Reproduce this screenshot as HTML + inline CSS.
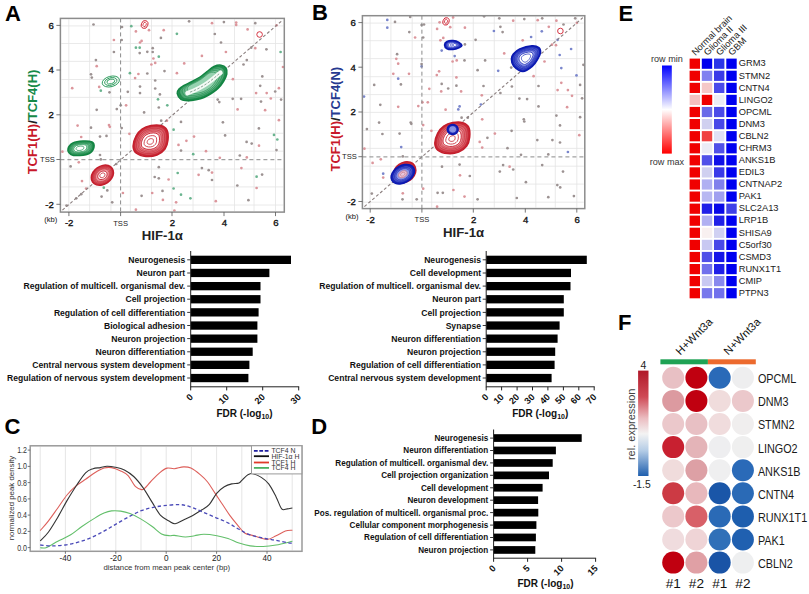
<!DOCTYPE html>
<html><head><meta charset="utf-8"><title>Figure</title>
<style>
html,body{margin:0;padding:0;background:#fff;}
svg{display:block;font-family:'Liberation Sans', Arial, sans-serif;}
</style></head>
<body>
<svg width="809" height="594" viewBox="0 0 809 594">
<rect width="809" height="594" fill="#fff"/>
<text x="5.0" y="20.8" font-size="22" text-anchor="start" font-weight="bold" fill="#000" >A</text>
<text x="312.0" y="20.4" font-size="22" text-anchor="start" font-weight="bold" fill="#000" >B</text>
<text x="4.6" y="434.3" font-size="22" text-anchor="start" font-weight="bold" fill="#000" >C</text>
<text x="311.3" y="434.2" font-size="22" text-anchor="start" font-weight="bold" fill="#000" >D</text>
<text x="618.5" y="20.8" font-size="22" text-anchor="start" font-weight="bold" fill="#000" >E</text>
<text x="618.0" y="329.7" font-size="22" text-anchor="start" font-weight="bold" fill="#000" >F</text>
<line x1="68.8" y1="19.4" x2="68.8" y2="211.1" stroke="#e4e4e4" stroke-width="0.8" />
<line x1="89.6" y1="19.4" x2="89.6" y2="211.1" stroke="#e4e4e4" stroke-width="0.8" />
<line x1="110.9" y1="19.4" x2="110.9" y2="211.1" stroke="#e4e4e4" stroke-width="0.8" />
<line x1="130.4" y1="19.4" x2="130.4" y2="211.1" stroke="#e4e4e4" stroke-width="0.8" />
<line x1="151.5" y1="19.4" x2="151.5" y2="211.1" stroke="#e4e4e4" stroke-width="0.8" />
<line x1="172.0" y1="19.4" x2="172.0" y2="211.1" stroke="#e4e4e4" stroke-width="0.8" />
<line x1="193.0" y1="19.4" x2="193.0" y2="211.1" stroke="#e4e4e4" stroke-width="0.8" />
<line x1="214.0" y1="19.4" x2="214.0" y2="211.1" stroke="#e4e4e4" stroke-width="0.8" />
<line x1="234.5" y1="19.4" x2="234.5" y2="211.1" stroke="#e4e4e4" stroke-width="0.8" />
<line x1="254.0" y1="19.4" x2="254.0" y2="211.1" stroke="#e4e4e4" stroke-width="0.8" />
<line x1="275.5" y1="19.4" x2="275.5" y2="211.1" stroke="#e4e4e4" stroke-width="0.8" />
<line x1="61.4" y1="25.9" x2="283.3" y2="25.9" stroke="#e4e4e4" stroke-width="0.8" />
<line x1="61.4" y1="43.5" x2="283.3" y2="43.5" stroke="#e4e4e4" stroke-width="0.8" />
<line x1="61.4" y1="61.4" x2="283.3" y2="61.4" stroke="#e4e4e4" stroke-width="0.8" />
<line x1="61.4" y1="79.5" x2="283.3" y2="79.5" stroke="#e4e4e4" stroke-width="0.8" />
<line x1="61.4" y1="97.4" x2="283.3" y2="97.4" stroke="#e4e4e4" stroke-width="0.8" />
<line x1="61.4" y1="115.2" x2="283.3" y2="115.2" stroke="#e4e4e4" stroke-width="0.8" />
<line x1="61.4" y1="133.3" x2="283.3" y2="133.3" stroke="#e4e4e4" stroke-width="0.8" />
<line x1="61.4" y1="151.2" x2="283.3" y2="151.2" stroke="#e4e4e4" stroke-width="0.8" />
<line x1="61.4" y1="169.0" x2="283.3" y2="169.0" stroke="#e4e4e4" stroke-width="0.8" />
<line x1="61.4" y1="186.9" x2="283.3" y2="186.9" stroke="#e4e4e4" stroke-width="0.8" />
<line x1="61.4" y1="205.0" x2="283.3" y2="205.0" stroke="#e4e4e4" stroke-width="0.8" />
<circle cx="93.5" cy="24.5" r="1.35" fill="#9c9292"/>
<circle cx="122.0" cy="27.0" r="1.35" fill="#9c9292"/>
<circle cx="131.3" cy="26.2" r="1.35" fill="#6ab48f"/>
<circle cx="135.9" cy="31.4" r="1.35" fill="#dc969c"/>
<circle cx="149.0" cy="30.2" r="1.35" fill="#dc969c"/>
<circle cx="163.7" cy="30.2" r="1.35" fill="#dc969c"/>
<circle cx="160.9" cy="37.9" r="1.35" fill="#9c9292"/>
<circle cx="113.9" cy="40.0" r="1.35" fill="#dc969c"/>
<circle cx="121.7" cy="40.0" r="1.35" fill="#9c9292"/>
<circle cx="140.0" cy="42.5" r="1.35" fill="#dc969c"/>
<circle cx="141.6" cy="40.9" r="1.35" fill="#dc969c"/>
<circle cx="135.9" cy="47.7" r="1.35" fill="#6ab48f"/>
<circle cx="139.7" cy="47.7" r="1.35" fill="#6ab48f"/>
<circle cx="152.7" cy="48.2" r="1.35" fill="#9c9292"/>
<circle cx="113.9" cy="52.0" r="1.35" fill="#9c9292"/>
<circle cx="139.7" cy="53.1" r="1.35" fill="#9c9292"/>
<circle cx="147.3" cy="51.8" r="1.35" fill="#9c9292"/>
<circle cx="152.7" cy="52.0" r="1.35" fill="#9c9292"/>
<circle cx="158.8" cy="56.7" r="1.35" fill="#6ab48f"/>
<circle cx="95.9" cy="60.1" r="1.35" fill="#9c9292"/>
<circle cx="153.4" cy="58.5" r="1.35" fill="#dc969c"/>
<circle cx="96.7" cy="66.2" r="1.35" fill="#dc969c"/>
<circle cx="155.2" cy="62.9" r="1.35" fill="#dc969c"/>
<circle cx="151.4" cy="64.5" r="1.35" fill="#dc969c"/>
<circle cx="164.5" cy="71.1" r="1.35" fill="#9c9292"/>
<circle cx="129.9" cy="73.2" r="1.35" fill="#6ab48f"/>
<circle cx="138.4" cy="74.0" r="1.35" fill="#dc969c"/>
<circle cx="147.3" cy="73.5" r="1.35" fill="#9c9292"/>
<circle cx="91.0" cy="74.3" r="1.35" fill="#9c9292"/>
<circle cx="91.8" cy="77.6" r="1.35" fill="#9c9292"/>
<circle cx="135.1" cy="78.1" r="1.35" fill="#dc969c"/>
<circle cx="155.2" cy="80.5" r="1.35" fill="#9c9292"/>
<circle cx="72.2" cy="88.2" r="1.35" fill="#dc969c"/>
<circle cx="99.2" cy="86.9" r="1.35" fill="#dc969c"/>
<circle cx="100.8" cy="90.7" r="1.35" fill="#6ab48f"/>
<circle cx="109.5" cy="92.3" r="1.35" fill="#9c9292"/>
<circle cx="127.8" cy="91.8" r="1.35" fill="#9c9292"/>
<circle cx="140.0" cy="86.6" r="1.35" fill="#9c9292"/>
<circle cx="140.0" cy="93.1" r="1.35" fill="#9c9292"/>
<circle cx="155.2" cy="88.5" r="1.35" fill="#9c9292"/>
<circle cx="159.9" cy="94.4" r="1.35" fill="#9c9292"/>
<circle cx="158.0" cy="99.3" r="1.35" fill="#6ab48f"/>
<circle cx="120.7" cy="105.3" r="1.35" fill="#9c9292"/>
<circle cx="126.1" cy="105.3" r="1.35" fill="#dc969c"/>
<circle cx="96.7" cy="109.8" r="1.35" fill="#9c9292"/>
<circle cx="116.8" cy="109.1" r="1.35" fill="#9c9292"/>
<circle cx="144.1" cy="112.4" r="1.35" fill="#9c9292"/>
<circle cx="158.8" cy="107.5" r="1.35" fill="#9c9292"/>
<circle cx="167.3" cy="105.3" r="1.35" fill="#6ab48f"/>
<circle cx="189.1" cy="21.3" r="1.35" fill="#9c9292"/>
<circle cx="212.0" cy="23.2" r="1.35" fill="#dc969c"/>
<circle cx="223.9" cy="22.1" r="1.35" fill="#9c9292"/>
<circle cx="236.2" cy="22.6" r="1.35" fill="#dc969c"/>
<circle cx="236.2" cy="24.9" r="1.35" fill="#dc969c"/>
<circle cx="255.3" cy="23.2" r="1.35" fill="#9c9292"/>
<circle cx="247.6" cy="29.4" r="1.35" fill="#dc969c"/>
<circle cx="276.5" cy="25.3" r="1.35" fill="#dc969c"/>
<circle cx="176.9" cy="33.8" r="1.35" fill="#6ab48f"/>
<circle cx="214.8" cy="34.0" r="1.35" fill="#9c9292"/>
<circle cx="221.0" cy="42.5" r="1.35" fill="#9c9292"/>
<circle cx="251.2" cy="47.7" r="1.35" fill="#9c9292"/>
<circle cx="255.3" cy="48.2" r="1.35" fill="#dc969c"/>
<circle cx="266.4" cy="49.3" r="1.35" fill="#9c9292"/>
<circle cx="225.9" cy="52.0" r="1.35" fill="#dc969c"/>
<circle cx="201.9" cy="55.9" r="1.35" fill="#dc969c"/>
<circle cx="280.6" cy="52.0" r="1.35" fill="#6ab48f"/>
<circle cx="184.2" cy="63.4" r="1.35" fill="#dc969c"/>
<circle cx="246.8" cy="60.1" r="1.35" fill="#9c9292"/>
<circle cx="243.5" cy="64.5" r="1.35" fill="#9c9292"/>
<circle cx="283.0" cy="67.0" r="1.35" fill="#dc969c"/>
<circle cx="176.9" cy="73.2" r="1.35" fill="#dc969c"/>
<circle cx="232.9" cy="79.2" r="1.35" fill="#dc969c"/>
<circle cx="262.3" cy="76.4" r="1.35" fill="#9c9292"/>
<circle cx="260.2" cy="85.8" r="1.35" fill="#9c9292"/>
<circle cx="275.2" cy="91.5" r="1.35" fill="#9c9292"/>
<circle cx="278.9" cy="88.2" r="1.35" fill="#dc969c"/>
<circle cx="256.1" cy="93.1" r="1.35" fill="#dc969c"/>
<circle cx="266.7" cy="93.1" r="1.35" fill="#dc969c"/>
<circle cx="270.8" cy="98.5" r="1.35" fill="#dc969c"/>
<circle cx="261.0" cy="101.6" r="1.35" fill="#9c9292"/>
<circle cx="232.7" cy="98.8" r="1.35" fill="#9c9292"/>
<circle cx="241.1" cy="98.8" r="1.35" fill="#9c9292"/>
<circle cx="217.7" cy="99.6" r="1.35" fill="#9c9292"/>
<circle cx="219.3" cy="102.1" r="1.35" fill="#9c9292"/>
<circle cx="237.6" cy="109.4" r="1.35" fill="#dc969c"/>
<circle cx="265.1" cy="110.2" r="1.35" fill="#dc969c"/>
<circle cx="281.1" cy="99.6" r="1.35" fill="#9c9292"/>
<circle cx="77.6" cy="125.6" r="1.35" fill="#dc969c"/>
<circle cx="91.0" cy="127.7" r="1.35" fill="#9c9292"/>
<circle cx="109.0" cy="125.1" r="1.35" fill="#dc969c"/>
<circle cx="109.8" cy="126.8" r="1.35" fill="#dc969c"/>
<circle cx="121.7" cy="128.1" r="1.35" fill="#9c9292"/>
<circle cx="129.4" cy="133.8" r="1.35" fill="#dc969c"/>
<circle cx="81.2" cy="137.0" r="1.35" fill="#dc969c"/>
<circle cx="100.0" cy="136.6" r="1.35" fill="#9c9292"/>
<circle cx="106.5" cy="135.9" r="1.35" fill="#9c9292"/>
<circle cx="161.2" cy="120.7" r="1.35" fill="#9c9292"/>
<circle cx="166.9" cy="120.7" r="1.35" fill="#dc969c"/>
<circle cx="100.0" cy="155.0" r="1.35" fill="#9c9292"/>
<circle cx="62.4" cy="151.7" r="1.35" fill="#dc969c"/>
<circle cx="100.8" cy="159.4" r="1.35" fill="#9c9292"/>
<circle cx="78.8" cy="162.3" r="1.35" fill="#dc969c"/>
<circle cx="70.6" cy="166.4" r="1.35" fill="#9c9292"/>
<circle cx="116.3" cy="164.0" r="1.35" fill="#9c9292"/>
<circle cx="158.8" cy="167.2" r="1.35" fill="#9c9292"/>
<circle cx="154.7" cy="177.0" r="1.35" fill="#9c9292"/>
<circle cx="158.8" cy="178.3" r="1.35" fill="#9c9292"/>
<circle cx="168.6" cy="179.5" r="1.35" fill="#dc969c"/>
<circle cx="82.0" cy="181.1" r="1.35" fill="#dc969c"/>
<circle cx="86.1" cy="188.5" r="1.35" fill="#dc969c"/>
<circle cx="103.8" cy="187.7" r="1.35" fill="#6ab48f"/>
<circle cx="107.3" cy="190.4" r="1.35" fill="#9c9292"/>
<circle cx="122.9" cy="193.0" r="1.35" fill="#dc969c"/>
<circle cx="141.6" cy="195.8" r="1.35" fill="#9c9292"/>
<circle cx="152.2" cy="193.0" r="1.35" fill="#dc969c"/>
<circle cx="162.5" cy="190.9" r="1.35" fill="#9c9292"/>
<circle cx="162.9" cy="199.9" r="1.35" fill="#dc969c"/>
<circle cx="101.6" cy="196.6" r="1.35" fill="#9c9292"/>
<circle cx="81.2" cy="194.2" r="1.35" fill="#9c9292"/>
<circle cx="76.3" cy="198.3" r="1.35" fill="#9c9292"/>
<circle cx="112.2" cy="202.3" r="1.35" fill="#9c9292"/>
<circle cx="135.9" cy="209.7" r="1.35" fill="#dc969c"/>
<circle cx="66.5" cy="205.6" r="1.35" fill="#9c9292"/>
<circle cx="181.0" cy="121.9" r="1.35" fill="#9c9292"/>
<circle cx="222.9" cy="122.3" r="1.35" fill="#9c9292"/>
<circle cx="278.9" cy="120.2" r="1.35" fill="#dc969c"/>
<circle cx="173.6" cy="129.7" r="1.35" fill="#6ab48f"/>
<circle cx="258.9" cy="128.4" r="1.35" fill="#9c9292"/>
<circle cx="194.0" cy="136.6" r="1.35" fill="#dc969c"/>
<circle cx="225.1" cy="135.4" r="1.35" fill="#9c9292"/>
<circle cx="274.0" cy="134.9" r="1.35" fill="#6ab48f"/>
<circle cx="277.3" cy="139.5" r="1.35" fill="#6ab48f"/>
<circle cx="186.4" cy="140.8" r="1.35" fill="#dc969c"/>
<circle cx="178.5" cy="144.9" r="1.35" fill="#dc969c"/>
<circle cx="246.6" cy="141.9" r="1.35" fill="#9c9292"/>
<circle cx="251.7" cy="143.6" r="1.35" fill="#9c9292"/>
<circle cx="259.0" cy="145.7" r="1.35" fill="#dc969c"/>
<circle cx="181.0" cy="150.6" r="1.35" fill="#9c9292"/>
<circle cx="206.0" cy="151.2" r="1.35" fill="#dc969c"/>
<circle cx="193.2" cy="154.2" r="1.35" fill="#6ab48f"/>
<circle cx="276.5" cy="150.1" r="1.35" fill="#9c9292"/>
<circle cx="239.8" cy="155.5" r="1.35" fill="#9c9292"/>
<circle cx="219.8" cy="157.8" r="1.35" fill="#dc969c"/>
<circle cx="246.8" cy="157.4" r="1.35" fill="#dc969c"/>
<circle cx="201.9" cy="168.1" r="1.35" fill="#9c9292"/>
<circle cx="241.4" cy="168.1" r="1.35" fill="#dc969c"/>
<circle cx="208.7" cy="170.2" r="1.35" fill="#9c9292"/>
<circle cx="212.0" cy="172.6" r="1.35" fill="#dc969c"/>
<circle cx="198.6" cy="174.8" r="1.35" fill="#dc969c"/>
<circle cx="177.7" cy="173.0" r="1.35" fill="#6ab48f"/>
<circle cx="212.0" cy="180.0" r="1.35" fill="#9c9292"/>
<circle cx="256.6" cy="176.7" r="1.35" fill="#6ab48f"/>
<circle cx="262.1" cy="174.6" r="1.35" fill="#9c9292"/>
<circle cx="237.3" cy="185.5" r="1.35" fill="#9c9292"/>
<circle cx="256.6" cy="188.0" r="1.35" fill="#dc969c"/>
<circle cx="173.6" cy="188.5" r="1.35" fill="#6ab48f"/>
<circle cx="181.0" cy="194.7" r="1.35" fill="#6ab48f"/>
<circle cx="190.4" cy="198.3" r="1.35" fill="#6ab48f"/>
<circle cx="176.1" cy="202.3" r="1.35" fill="#dc969c"/>
<circle cx="215.8" cy="201.2" r="1.35" fill="#dc969c"/>
<circle cx="248.4" cy="200.2" r="1.35" fill="#9c9292"/>
<circle cx="174.4" cy="210.5" r="1.35" fill="#dc969c"/>
<line x1="62.4" y1="210.1" x2="282.3" y2="20.4" stroke="#8a7e7e" stroke-width="1.1" stroke-dasharray="3,2.2"/>
<line x1="120.6" y1="18.4" x2="120.6" y2="212.1" stroke="#8a8a8a" stroke-width="1" stroke-dasharray="4,3"/>
<line x1="60.4" y1="159.7" x2="284.3" y2="159.7" stroke="#8a8a8a" stroke-width="1" stroke-dasharray="4,3"/>
<path d="M133.10,146.00 C133.10,148.83 133.85,151.25 136.00,153.00 C138.15,154.75 142.50,156.17 146.00,156.50 C149.50,156.83 153.83,156.25 157.00,155.00 C160.17,153.75 163.17,151.50 165.00,149.00 C166.83,146.50 167.67,143.17 168.00,140.00 C168.33,136.83 168.17,132.42 167.00,130.00 C165.83,127.58 163.67,126.25 161.00,125.50 C158.33,124.75 154.17,124.92 151.00,125.50 C147.83,126.08 144.50,127.25 142.00,129.00 C139.50,130.75 137.48,133.17 136.00,136.00 C134.52,138.83 133.10,143.17 133.10,146.00Z" fill="#c92c39" stroke="#c41e2c" stroke-width="1.5"/>
<path d="M133.10,146.00 C133.10,148.83 133.85,151.25 136.00,153.00 C138.15,154.75 142.50,156.17 146.00,156.50 C149.50,156.83 153.83,156.25 157.00,155.00 C160.17,153.75 163.17,151.50 165.00,149.00 C166.83,146.50 167.67,143.17 168.00,140.00 C168.33,136.83 168.17,132.42 167.00,130.00 C165.83,127.58 163.67,126.25 161.00,125.50 C158.33,124.75 154.17,124.92 151.00,125.50 C147.83,126.08 144.50,127.25 142.00,129.00 C139.50,130.75 137.48,133.17 136.00,136.00 C134.52,138.83 133.10,143.17 133.10,146.00Z" transform="translate(150.20,141.60) scale(0.9) translate(-150.20,-141.60)" vector-effect="non-scaling-stroke" fill="#d6525d" stroke="#c41e2c" stroke-width="0.7" stroke-opacity="0.75"/>
<path d="M133.10,146.00 C133.10,148.83 133.85,151.25 136.00,153.00 C138.15,154.75 142.50,156.17 146.00,156.50 C149.50,156.83 153.83,156.25 157.00,155.00 C160.17,153.75 163.17,151.50 165.00,149.00 C166.83,146.50 167.67,143.17 168.00,140.00 C168.33,136.83 168.17,132.42 167.00,130.00 C165.83,127.58 163.67,126.25 161.00,125.50 C158.33,124.75 154.17,124.92 151.00,125.50 C147.83,126.08 144.50,127.25 142.00,129.00 C139.50,130.75 137.48,133.17 136.00,136.00 C134.52,138.83 133.10,143.17 133.10,146.00Z" transform="translate(150.20,141.60) scale(0.8) translate(-150.20,-141.60)" vector-effect="non-scaling-stroke" fill="#dd6972" stroke="#c41e2c" stroke-width="0.7" stroke-opacity="0.75"/>
<path d="M133.10,146.00 C133.10,148.83 133.85,151.25 136.00,153.00 C138.15,154.75 142.50,156.17 146.00,156.50 C149.50,156.83 153.83,156.25 157.00,155.00 C160.17,153.75 163.17,151.50 165.00,149.00 C166.83,146.50 167.67,143.17 168.00,140.00 C168.33,136.83 168.17,132.42 167.00,130.00 C165.83,127.58 163.67,126.25 161.00,125.50 C158.33,124.75 154.17,124.92 151.00,125.50 C147.83,126.08 144.50,127.25 142.00,129.00 C139.50,130.75 137.48,133.17 136.00,136.00 C134.52,138.83 133.10,143.17 133.10,146.00Z" transform="translate(150.20,141.60) scale(0.7) translate(-150.20,-141.60)" vector-effect="non-scaling-stroke" fill="#e48087" stroke="#c41e2c" stroke-width="0.7" stroke-opacity="0.75"/>
<path d="M133.10,146.00 C133.10,148.83 133.85,151.25 136.00,153.00 C138.15,154.75 142.50,156.17 146.00,156.50 C149.50,156.83 153.83,156.25 157.00,155.00 C160.17,153.75 163.17,151.50 165.00,149.00 C166.83,146.50 167.67,143.17 168.00,140.00 C168.33,136.83 168.17,132.42 167.00,130.00 C165.83,127.58 163.67,126.25 161.00,125.50 C158.33,124.75 154.17,124.92 151.00,125.50 C147.83,126.08 144.50,127.25 142.00,129.00 C139.50,130.75 137.48,133.17 136.00,136.00 C134.52,138.83 133.10,143.17 133.10,146.00Z" transform="translate(150.20,141.60) scale(0.62) translate(-150.20,-141.60)" vector-effect="non-scaling-stroke" fill="#ec969c" stroke="#c41e2c" stroke-width="0.7" stroke-opacity="0.75"/>
<path d="M133.10,146.00 C133.10,148.83 133.85,151.25 136.00,153.00 C138.15,154.75 142.50,156.17 146.00,156.50 C149.50,156.83 153.83,156.25 157.00,155.00 C160.17,153.75 163.17,151.50 165.00,149.00 C166.83,146.50 167.67,143.17 168.00,140.00 C168.33,136.83 168.17,132.42 167.00,130.00 C165.83,127.58 163.67,126.25 161.00,125.50 C158.33,124.75 154.17,124.92 151.00,125.50 C147.83,126.08 144.50,127.25 142.00,129.00 C139.50,130.75 137.48,133.17 136.00,136.00 C134.52,138.83 133.10,143.17 133.10,146.00Z" transform="translate(150.20,141.60) scale(0.52) translate(-150.20,-141.60)" vector-effect="non-scaling-stroke" fill="#ffffff" stroke="#c41e2c" stroke-width="0.9"/>
<path d="M133.10,146.00 C133.10,148.83 133.85,151.25 136.00,153.00 C138.15,154.75 142.50,156.17 146.00,156.50 C149.50,156.83 153.83,156.25 157.00,155.00 C160.17,153.75 163.17,151.50 165.00,149.00 C166.83,146.50 167.67,143.17 168.00,140.00 C168.33,136.83 168.17,132.42 167.00,130.00 C165.83,127.58 163.67,126.25 161.00,125.50 C158.33,124.75 154.17,124.92 151.00,125.50 C147.83,126.08 144.50,127.25 142.00,129.00 C139.50,130.75 137.48,133.17 136.00,136.00 C134.52,138.83 133.10,143.17 133.10,146.00Z" transform="translate(150.20,141.60) scale(0.36) translate(-150.20,-141.60)" vector-effect="non-scaling-stroke" fill="none" stroke="#c41e2c" stroke-width="0.8"/>
<path d="M133.10,146.00 C133.10,148.83 133.85,151.25 136.00,153.00 C138.15,154.75 142.50,156.17 146.00,156.50 C149.50,156.83 153.83,156.25 157.00,155.00 C160.17,153.75 163.17,151.50 165.00,149.00 C166.83,146.50 167.67,143.17 168.00,140.00 C168.33,136.83 168.17,132.42 167.00,130.00 C165.83,127.58 163.67,126.25 161.00,125.50 C158.33,124.75 154.17,124.92 151.00,125.50 C147.83,126.08 144.50,127.25 142.00,129.00 C139.50,130.75 137.48,133.17 136.00,136.00 C134.52,138.83 133.10,143.17 133.10,146.00Z" transform="translate(150.20,141.60) scale(0.18) translate(-150.20,-141.60)" vector-effect="non-scaling-stroke" fill="none" stroke="#c41e2c" stroke-width="0.8"/>
<path d="M112.23,168.32 C113.09,169.55 113.57,171.29 113.49,172.93 C113.42,174.56 112.77,176.54 111.79,178.14 C110.80,179.75 109.20,181.43 107.56,182.57 C105.92,183.72 103.80,184.65 101.96,185.03 C100.11,185.41 98.03,185.34 96.47,184.85 C94.90,184.36 93.43,183.31 92.57,182.08 C91.71,180.85 91.23,179.11 91.31,177.47 C91.38,175.84 92.03,173.86 93.01,172.26 C94.00,170.65 95.60,168.97 97.24,167.83 C98.88,166.68 101.00,165.75 102.84,165.37 C104.69,164.99 106.77,165.06 108.33,165.55 C109.90,166.04 111.37,167.09 112.23,168.32Z" fill="#c92c39" stroke="#c41e2c" stroke-width="1.5"/>
<path d="M112.23,168.32 C113.09,169.55 113.57,171.29 113.49,172.93 C113.42,174.56 112.77,176.54 111.79,178.14 C110.80,179.75 109.20,181.43 107.56,182.57 C105.92,183.72 103.80,184.65 101.96,185.03 C100.11,185.41 98.03,185.34 96.47,184.85 C94.90,184.36 93.43,183.31 92.57,182.08 C91.71,180.85 91.23,179.11 91.31,177.47 C91.38,175.84 92.03,173.86 93.01,172.26 C94.00,170.65 95.60,168.97 97.24,167.83 C98.88,166.68 101.00,165.75 102.84,165.37 C104.69,164.99 106.77,165.06 108.33,165.55 C109.90,166.04 111.37,167.09 112.23,168.32Z" transform="translate(102.40,175.40) scale(0.9) translate(-102.40,-175.40)" vector-effect="non-scaling-stroke" fill="#d6525d" stroke="#c41e2c" stroke-width="0.7" stroke-opacity="0.75"/>
<path d="M112.23,168.32 C113.09,169.55 113.57,171.29 113.49,172.93 C113.42,174.56 112.77,176.54 111.79,178.14 C110.80,179.75 109.20,181.43 107.56,182.57 C105.92,183.72 103.80,184.65 101.96,185.03 C100.11,185.41 98.03,185.34 96.47,184.85 C94.90,184.36 93.43,183.31 92.57,182.08 C91.71,180.85 91.23,179.11 91.31,177.47 C91.38,175.84 92.03,173.86 93.01,172.26 C94.00,170.65 95.60,168.97 97.24,167.83 C98.88,166.68 101.00,165.75 102.84,165.37 C104.69,164.99 106.77,165.06 108.33,165.55 C109.90,166.04 111.37,167.09 112.23,168.32Z" transform="translate(102.40,175.40) scale(0.8) translate(-102.40,-175.40)" vector-effect="non-scaling-stroke" fill="#dd6972" stroke="#c41e2c" stroke-width="0.7" stroke-opacity="0.75"/>
<path d="M112.23,168.32 C113.09,169.55 113.57,171.29 113.49,172.93 C113.42,174.56 112.77,176.54 111.79,178.14 C110.80,179.75 109.20,181.43 107.56,182.57 C105.92,183.72 103.80,184.65 101.96,185.03 C100.11,185.41 98.03,185.34 96.47,184.85 C94.90,184.36 93.43,183.31 92.57,182.08 C91.71,180.85 91.23,179.11 91.31,177.47 C91.38,175.84 92.03,173.86 93.01,172.26 C94.00,170.65 95.60,168.97 97.24,167.83 C98.88,166.68 101.00,165.75 102.84,165.37 C104.69,164.99 106.77,165.06 108.33,165.55 C109.90,166.04 111.37,167.09 112.23,168.32Z" transform="translate(102.40,175.40) scale(0.7) translate(-102.40,-175.40)" vector-effect="non-scaling-stroke" fill="#e48087" stroke="#c41e2c" stroke-width="0.7" stroke-opacity="0.75"/>
<path d="M112.23,168.32 C113.09,169.55 113.57,171.29 113.49,172.93 C113.42,174.56 112.77,176.54 111.79,178.14 C110.80,179.75 109.20,181.43 107.56,182.57 C105.92,183.72 103.80,184.65 101.96,185.03 C100.11,185.41 98.03,185.34 96.47,184.85 C94.90,184.36 93.43,183.31 92.57,182.08 C91.71,180.85 91.23,179.11 91.31,177.47 C91.38,175.84 92.03,173.86 93.01,172.26 C94.00,170.65 95.60,168.97 97.24,167.83 C98.88,166.68 101.00,165.75 102.84,165.37 C104.69,164.99 106.77,165.06 108.33,165.55 C109.90,166.04 111.37,167.09 112.23,168.32Z" transform="translate(102.40,175.40) scale(0.62) translate(-102.40,-175.40)" vector-effect="non-scaling-stroke" fill="#ec969c" stroke="#c41e2c" stroke-width="0.7" stroke-opacity="0.75"/>
<path d="M112.23,168.32 C113.09,169.55 113.57,171.29 113.49,172.93 C113.42,174.56 112.77,176.54 111.79,178.14 C110.80,179.75 109.20,181.43 107.56,182.57 C105.92,183.72 103.80,184.65 101.96,185.03 C100.11,185.41 98.03,185.34 96.47,184.85 C94.90,184.36 93.43,183.31 92.57,182.08 C91.71,180.85 91.23,179.11 91.31,177.47 C91.38,175.84 92.03,173.86 93.01,172.26 C94.00,170.65 95.60,168.97 97.24,167.83 C98.88,166.68 101.00,165.75 102.84,165.37 C104.69,164.99 106.77,165.06 108.33,165.55 C109.90,166.04 111.37,167.09 112.23,168.32Z" transform="translate(102.40,175.40) scale(0.42) translate(-102.40,-175.40)" vector-effect="non-scaling-stroke" fill="#ffffff" stroke="#c41e2c" stroke-width="0.9"/>
<path d="M112.23,168.32 C113.09,169.55 113.57,171.29 113.49,172.93 C113.42,174.56 112.77,176.54 111.79,178.14 C110.80,179.75 109.20,181.43 107.56,182.57 C105.92,183.72 103.80,184.65 101.96,185.03 C100.11,185.41 98.03,185.34 96.47,184.85 C94.90,184.36 93.43,183.31 92.57,182.08 C91.71,180.85 91.23,179.11 91.31,177.47 C91.38,175.84 92.03,173.86 93.01,172.26 C94.00,170.65 95.60,168.97 97.24,167.83 C98.88,166.68 101.00,165.75 102.84,165.37 C104.69,164.99 106.77,165.06 108.33,165.55 C109.90,166.04 111.37,167.09 112.23,168.32Z" transform="translate(102.40,175.40) scale(0.24) translate(-102.40,-175.40)" vector-effect="non-scaling-stroke" fill="none" stroke="#c41e2c" stroke-width="0.8"/>
<path d="M68.00,149.00 C67.67,150.92 69.00,153.42 71.00,154.50 C73.00,155.58 76.83,155.75 80.00,155.50 C83.17,155.25 87.67,154.42 90.00,153.00 C92.33,151.58 93.67,148.83 94.00,147.00 C94.33,145.17 93.83,143.00 92.00,142.00 C90.17,141.00 86.17,140.83 83.00,141.00 C79.83,141.17 75.50,141.67 73.00,143.00 C70.50,144.33 68.33,147.08 68.00,149.00Z" fill="#228d4f" stroke="#128442" stroke-width="1.5"/>
<path d="M68.00,149.00 C67.67,150.92 69.00,153.42 71.00,154.50 C73.00,155.58 76.83,155.75 80.00,155.50 C83.17,155.25 87.67,154.42 90.00,153.00 C92.33,151.58 93.67,148.83 94.00,147.00 C94.33,145.17 93.83,143.00 92.00,142.00 C90.17,141.00 86.17,140.83 83.00,141.00 C79.83,141.17 75.50,141.67 73.00,143.00 C70.50,144.33 68.33,147.08 68.00,149.00Z" transform="translate(79.50,148.30) scale(0.9) translate(-79.50,-148.30)" vector-effect="non-scaling-stroke" fill="#4ca672" stroke="#128442" stroke-width="0.7" stroke-opacity="0.75"/>
<path d="M68.00,149.00 C67.67,150.92 69.00,153.42 71.00,154.50 C73.00,155.58 76.83,155.75 80.00,155.50 C83.17,155.25 87.67,154.42 90.00,153.00 C92.33,151.58 93.67,148.83 94.00,147.00 C94.33,145.17 93.83,143.00 92.00,142.00 C90.17,141.00 86.17,140.83 83.00,141.00 C79.83,141.17 75.50,141.67 73.00,143.00 C70.50,144.33 68.33,147.08 68.00,149.00Z" transform="translate(79.50,148.30) scale(0.8) translate(-79.50,-148.30)" vector-effect="non-scaling-stroke" fill="#64b587" stroke="#128442" stroke-width="0.7" stroke-opacity="0.75"/>
<path d="M68.00,149.00 C67.67,150.92 69.00,153.42 71.00,154.50 C73.00,155.58 76.83,155.75 80.00,155.50 C83.17,155.25 87.67,154.42 90.00,153.00 C92.33,151.58 93.67,148.83 94.00,147.00 C94.33,145.17 93.83,143.00 92.00,142.00 C90.17,141.00 86.17,140.83 83.00,141.00 C79.83,141.17 75.50,141.67 73.00,143.00 C70.50,144.33 68.33,147.08 68.00,149.00Z" transform="translate(79.50,148.30) scale(0.7) translate(-79.50,-148.30)" vector-effect="non-scaling-stroke" fill="#7dc39b" stroke="#128442" stroke-width="0.7" stroke-opacity="0.75"/>
<path d="M68.00,149.00 C67.67,150.92 69.00,153.42 71.00,154.50 C73.00,155.58 76.83,155.75 80.00,155.50 C83.17,155.25 87.67,154.42 90.00,153.00 C92.33,151.58 93.67,148.83 94.00,147.00 C94.33,145.17 93.83,143.00 92.00,142.00 C90.17,141.00 86.17,140.83 83.00,141.00 C79.83,141.17 75.50,141.67 73.00,143.00 C70.50,144.33 68.33,147.08 68.00,149.00Z" transform="translate(79.50,148.30) scale(0.62) translate(-79.50,-148.30)" vector-effect="non-scaling-stroke" fill="#96d2b0" stroke="#128442" stroke-width="0.7" stroke-opacity="0.75"/>
<path d="M68.00,149.00 C67.67,150.92 69.00,153.42 71.00,154.50 C73.00,155.58 76.83,155.75 80.00,155.50 C83.17,155.25 87.67,154.42 90.00,153.00 C92.33,151.58 93.67,148.83 94.00,147.00 C94.33,145.17 93.83,143.00 92.00,142.00 C90.17,141.00 86.17,140.83 83.00,141.00 C79.83,141.17 75.50,141.67 73.00,143.00 C70.50,144.33 68.33,147.08 68.00,149.00Z" transform="translate(79.50,148.30) scale(0.5) translate(-79.50,-148.30)" vector-effect="non-scaling-stroke" fill="#ffffff" stroke="#2a9a5a" stroke-width="0.9"/>
<path d="M68.00,149.00 C67.67,150.92 69.00,153.42 71.00,154.50 C73.00,155.58 76.83,155.75 80.00,155.50 C83.17,155.25 87.67,154.42 90.00,153.00 C92.33,151.58 93.67,148.83 94.00,147.00 C94.33,145.17 93.83,143.00 92.00,142.00 C90.17,141.00 86.17,140.83 83.00,141.00 C79.83,141.17 75.50,141.67 73.00,143.00 C70.50,144.33 68.33,147.08 68.00,149.00Z" transform="translate(79.50,148.30) scale(0.3) translate(-79.50,-148.30)" vector-effect="non-scaling-stroke" fill="none" stroke="#2a9a5a" stroke-width="0.8"/>
<ellipse cx="110.8" cy="81.5" rx="8.8" ry="5.2" transform="rotate(-15 110.8 81.5)" fill="none" stroke="#2a9a5a" stroke-width="0.9"/>
<ellipse cx="110.8" cy="81.5" rx="6.3" ry="3.7" transform="rotate(-15 110.8 81.5)" fill="none" stroke="#2a9a5a" stroke-width="0.9"/>
<ellipse cx="110.8" cy="81.5" rx="4.0" ry="2.3" transform="rotate(-15 110.8 81.5)" fill="none" stroke="#2a9a5a" stroke-width="0.9"/>
<path d="M177.20,93.40 C177.53,95.15 179.20,98.27 181.00,99.50 C182.80,100.73 185.50,100.75 188.00,100.80 C190.50,100.85 193.33,100.35 196.00,99.80 C198.67,99.25 201.40,98.57 204.00,97.50 C206.60,96.43 209.27,94.90 211.60,93.40 C213.93,91.90 216.02,90.48 218.00,88.50 C219.98,86.52 222.03,83.88 223.50,81.50 C224.97,79.12 226.38,76.45 226.80,74.20 C227.22,71.95 226.97,69.50 226.00,68.00 C225.03,66.50 223.00,65.45 221.00,65.20 C219.00,64.95 216.33,65.45 214.00,66.50 C211.67,67.55 209.33,69.75 207.00,71.50 C204.67,73.25 202.50,75.33 200.00,77.00 C197.50,78.67 194.67,80.08 192.00,81.50 C189.33,82.92 186.17,84.25 184.00,85.50 C181.83,86.75 180.13,87.68 179.00,89.00 C177.87,90.32 176.87,91.65 177.20,93.40Z" fill="#228d4f" stroke="#128442" stroke-width="1.5"/>
<path d="M177.20,93.40 C177.53,95.15 179.20,98.27 181.00,99.50 C182.80,100.73 185.50,100.75 188.00,100.80 C190.50,100.85 193.33,100.35 196.00,99.80 C198.67,99.25 201.40,98.57 204.00,97.50 C206.60,96.43 209.27,94.90 211.60,93.40 C213.93,91.90 216.02,90.48 218.00,88.50 C219.98,86.52 222.03,83.88 223.50,81.50 C224.97,79.12 226.38,76.45 226.80,74.20 C227.22,71.95 226.97,69.50 226.00,68.00 C225.03,66.50 223.00,65.45 221.00,65.20 C219.00,64.95 216.33,65.45 214.00,66.50 C211.67,67.55 209.33,69.75 207.00,71.50 C204.67,73.25 202.50,75.33 200.00,77.00 C197.50,78.67 194.67,80.08 192.00,81.50 C189.33,82.92 186.17,84.25 184.00,85.50 C181.83,86.75 180.13,87.68 179.00,89.00 C177.87,90.32 176.87,91.65 177.20,93.40Z" transform="translate(202.50,82.80) scale(0.9) translate(-202.50,-82.80)" vector-effect="non-scaling-stroke" fill="#4ca672" stroke="#128442" stroke-width="0.7" stroke-opacity="0.75"/>
<path d="M177.20,93.40 C177.53,95.15 179.20,98.27 181.00,99.50 C182.80,100.73 185.50,100.75 188.00,100.80 C190.50,100.85 193.33,100.35 196.00,99.80 C198.67,99.25 201.40,98.57 204.00,97.50 C206.60,96.43 209.27,94.90 211.60,93.40 C213.93,91.90 216.02,90.48 218.00,88.50 C219.98,86.52 222.03,83.88 223.50,81.50 C224.97,79.12 226.38,76.45 226.80,74.20 C227.22,71.95 226.97,69.50 226.00,68.00 C225.03,66.50 223.00,65.45 221.00,65.20 C219.00,64.95 216.33,65.45 214.00,66.50 C211.67,67.55 209.33,69.75 207.00,71.50 C204.67,73.25 202.50,75.33 200.00,77.00 C197.50,78.67 194.67,80.08 192.00,81.50 C189.33,82.92 186.17,84.25 184.00,85.50 C181.83,86.75 180.13,87.68 179.00,89.00 C177.87,90.32 176.87,91.65 177.20,93.40Z" transform="translate(202.50,82.80) scale(0.8) translate(-202.50,-82.80)" vector-effect="non-scaling-stroke" fill="#64b587" stroke="#128442" stroke-width="0.7" stroke-opacity="0.75"/>
<path d="M177.20,93.40 C177.53,95.15 179.20,98.27 181.00,99.50 C182.80,100.73 185.50,100.75 188.00,100.80 C190.50,100.85 193.33,100.35 196.00,99.80 C198.67,99.25 201.40,98.57 204.00,97.50 C206.60,96.43 209.27,94.90 211.60,93.40 C213.93,91.90 216.02,90.48 218.00,88.50 C219.98,86.52 222.03,83.88 223.50,81.50 C224.97,79.12 226.38,76.45 226.80,74.20 C227.22,71.95 226.97,69.50 226.00,68.00 C225.03,66.50 223.00,65.45 221.00,65.20 C219.00,64.95 216.33,65.45 214.00,66.50 C211.67,67.55 209.33,69.75 207.00,71.50 C204.67,73.25 202.50,75.33 200.00,77.00 C197.50,78.67 194.67,80.08 192.00,81.50 C189.33,82.92 186.17,84.25 184.00,85.50 C181.83,86.75 180.13,87.68 179.00,89.00 C177.87,90.32 176.87,91.65 177.20,93.40Z" transform="translate(202.50,82.80) scale(0.7) translate(-202.50,-82.80)" vector-effect="non-scaling-stroke" fill="#7dc39b" stroke="#128442" stroke-width="0.7" stroke-opacity="0.75"/>
<path d="M177.20,93.40 C177.53,95.15 179.20,98.27 181.00,99.50 C182.80,100.73 185.50,100.75 188.00,100.80 C190.50,100.85 193.33,100.35 196.00,99.80 C198.67,99.25 201.40,98.57 204.00,97.50 C206.60,96.43 209.27,94.90 211.60,93.40 C213.93,91.90 216.02,90.48 218.00,88.50 C219.98,86.52 222.03,83.88 223.50,81.50 C224.97,79.12 226.38,76.45 226.80,74.20 C227.22,71.95 226.97,69.50 226.00,68.00 C225.03,66.50 223.00,65.45 221.00,65.20 C219.00,64.95 216.33,65.45 214.00,66.50 C211.67,67.55 209.33,69.75 207.00,71.50 C204.67,73.25 202.50,75.33 200.00,77.00 C197.50,78.67 194.67,80.08 192.00,81.50 C189.33,82.92 186.17,84.25 184.00,85.50 C181.83,86.75 180.13,87.68 179.00,89.00 C177.87,90.32 176.87,91.65 177.20,93.40Z" transform="translate(202.50,82.80) scale(0.6) translate(-202.50,-82.80)" vector-effect="non-scaling-stroke" fill="#96d2b0" stroke="#128442" stroke-width="0.7" stroke-opacity="0.75"/>
<path d="M187.5,93.2 C195,90.5 203,86.5 209,82 C213,79 217,75.5 220.5,72.8" fill="none" stroke="#f4fbf6" stroke-width="4.6" stroke-linecap="round"/>
<path d="M190,92.2 C197,89.5 203.5,86 209,82 C213,79 216.5,76 219.5,73.5" fill="none" stroke="#4a6a58" stroke-width="0.6" stroke-dasharray="2.5,1.5"/>
<ellipse cx="144.6" cy="24.5" rx="3.2" ry="4" transform="rotate(20 144.6 24.5)" fill="none" stroke="#d02030" stroke-width="0.9"/>
<ellipse cx="144.6" cy="24.5" rx="1.6" ry="2.2" transform="rotate(20 144.6 24.5)" fill="none" stroke="#d02030" stroke-width="0.7"/>
<circle cx="259.6" cy="34.5" r="2.8" fill="none" stroke="#d02030" stroke-width="0.9"/>
<rect x="60.4" y="18.4" width="223.9" height="193.7" fill="none" stroke="#8c8c8c" stroke-width="1.5"/>
<line x1="56.4" y1="25.4" x2="60.4" y2="25.4" stroke="#555" stroke-width="0.8" />
<text x="53.9" y="28.8" font-size="9.6" text-anchor="end" font-weight="normal" fill="#111" stroke="#111" stroke-width="0.35">6</text>
<line x1="56.4" y1="70.0" x2="60.4" y2="70.0" stroke="#555" stroke-width="0.8" />
<text x="53.9" y="73.4" font-size="9.6" text-anchor="end" font-weight="normal" fill="#111" stroke="#111" stroke-width="0.35">4</text>
<line x1="56.4" y1="114.8" x2="60.4" y2="114.8" stroke="#555" stroke-width="0.8" />
<text x="53.9" y="118.2" font-size="9.6" text-anchor="end" font-weight="normal" fill="#111" stroke="#111" stroke-width="0.35">2</text>
<line x1="56.4" y1="159.5" x2="60.4" y2="159.5" stroke="#555" stroke-width="0.8" />
<text x="54.9" y="162.2" font-size="7.6" text-anchor="end" font-weight="normal" fill="#222" >TSS</text>
<line x1="56.4" y1="204.3" x2="60.4" y2="204.3" stroke="#555" stroke-width="0.8" />
<text x="53.9" y="207.7" font-size="9.6" text-anchor="end" font-weight="normal" fill="#111" stroke="#111" stroke-width="0.35">-2</text>
<line x1="68.9" y1="212.1" x2="68.9" y2="216.1" stroke="#555" stroke-width="0.8" />
<text x="69.2" y="226.0" font-size="9.6" text-anchor="middle" font-weight="normal" fill="#111" stroke="#111" stroke-width="0.35">-2</text>
<line x1="120.6" y1="212.1" x2="120.6" y2="216.1" stroke="#555" stroke-width="0.8" />
<text x="120.6" y="225.6" font-size="7.6" text-anchor="middle" font-weight="normal" fill="#222" >TSS</text>
<line x1="172.0" y1="212.1" x2="172.0" y2="216.1" stroke="#555" stroke-width="0.8" />
<text x="172.3" y="226.0" font-size="9.6" text-anchor="middle" font-weight="normal" fill="#111" stroke="#111" stroke-width="0.35">2</text>
<line x1="224.0" y1="212.1" x2="224.0" y2="216.1" stroke="#555" stroke-width="0.8" />
<text x="224.3" y="226.0" font-size="9.6" text-anchor="middle" font-weight="normal" fill="#111" stroke="#111" stroke-width="0.35">4</text>
<line x1="275.5" y1="212.1" x2="275.5" y2="216.1" stroke="#555" stroke-width="0.8" />
<text x="275.8" y="226.0" font-size="9.6" text-anchor="middle" font-weight="normal" fill="#111" stroke="#111" stroke-width="0.35">6</text>
<text x="44.2" y="221.8" font-size="7.6" text-anchor="start" font-weight="normal" fill="#111" >(kb)</text>
<text x="162.3" y="239.7" font-size="13.2" text-anchor="middle" font-weight="bold" fill="#222" >HIF-1α</text>
<text transform="translate(36.6,122.0) rotate(-90)" font-size="13" font-weight="bold" text-anchor="middle"><tspan fill="#c8182a">TCF1(H)</tspan><tspan fill="#222">/</tspan><tspan fill="#168a48">TCF4(H)</tspan></text>
<line x1="370.1" y1="16.7" x2="370.1" y2="207.6" stroke="#e4e4e4" stroke-width="0.8" />
<line x1="390.9" y1="16.7" x2="390.9" y2="207.6" stroke="#e4e4e4" stroke-width="0.8" />
<line x1="412.2" y1="16.7" x2="412.2" y2="207.6" stroke="#e4e4e4" stroke-width="0.8" />
<line x1="431.7" y1="16.7" x2="431.7" y2="207.6" stroke="#e4e4e4" stroke-width="0.8" />
<line x1="452.8" y1="16.7" x2="452.8" y2="207.6" stroke="#e4e4e4" stroke-width="0.8" />
<line x1="473.3" y1="16.7" x2="473.3" y2="207.6" stroke="#e4e4e4" stroke-width="0.8" />
<line x1="494.3" y1="16.7" x2="494.3" y2="207.6" stroke="#e4e4e4" stroke-width="0.8" />
<line x1="515.3" y1="16.7" x2="515.3" y2="207.6" stroke="#e4e4e4" stroke-width="0.8" />
<line x1="535.8" y1="16.7" x2="535.8" y2="207.6" stroke="#e4e4e4" stroke-width="0.8" />
<line x1="555.3" y1="16.7" x2="555.3" y2="207.6" stroke="#e4e4e4" stroke-width="0.8" />
<line x1="576.8" y1="16.7" x2="576.8" y2="207.6" stroke="#e4e4e4" stroke-width="0.8" />
<line x1="363.4" y1="23.1" x2="583.8" y2="23.1" stroke="#e4e4e4" stroke-width="0.8" />
<line x1="363.4" y1="40.7" x2="583.8" y2="40.7" stroke="#e4e4e4" stroke-width="0.8" />
<line x1="363.4" y1="58.6" x2="583.8" y2="58.6" stroke="#e4e4e4" stroke-width="0.8" />
<line x1="363.4" y1="76.7" x2="583.8" y2="76.7" stroke="#e4e4e4" stroke-width="0.8" />
<line x1="363.4" y1="94.6" x2="583.8" y2="94.6" stroke="#e4e4e4" stroke-width="0.8" />
<line x1="363.4" y1="112.4" x2="583.8" y2="112.4" stroke="#e4e4e4" stroke-width="0.8" />
<line x1="363.4" y1="130.5" x2="583.8" y2="130.5" stroke="#e4e4e4" stroke-width="0.8" />
<line x1="363.4" y1="148.4" x2="583.8" y2="148.4" stroke="#e4e4e4" stroke-width="0.8" />
<line x1="363.4" y1="166.2" x2="583.8" y2="166.2" stroke="#e4e4e4" stroke-width="0.8" />
<line x1="363.4" y1="184.1" x2="583.8" y2="184.1" stroke="#e4e4e4" stroke-width="0.8" />
<line x1="363.4" y1="202.2" x2="583.8" y2="202.2" stroke="#e4e4e4" stroke-width="0.8" />
<circle cx="387.3" cy="19.9" r="1.35" fill="#7a86cc"/>
<circle cx="395.0" cy="21.9" r="1.35" fill="#9c9292"/>
<circle cx="410.2" cy="17.0" r="1.35" fill="#9c9292"/>
<circle cx="387.3" cy="27.7" r="1.35" fill="#7a86cc"/>
<circle cx="421.6" cy="25.1" r="1.35" fill="#9c9292"/>
<circle cx="424.0" cy="24.5" r="1.35" fill="#9c9292"/>
<circle cx="437.1" cy="28.9" r="1.35" fill="#dc969c"/>
<circle cx="439.6" cy="22.3" r="1.35" fill="#dc969c"/>
<circle cx="450.2" cy="27.2" r="1.35" fill="#dc969c"/>
<circle cx="453.1" cy="17.4" r="1.35" fill="#dc969c"/>
<circle cx="464.9" cy="27.7" r="1.35" fill="#dc969c"/>
<circle cx="409.3" cy="32.1" r="1.35" fill="#9c9292"/>
<circle cx="415.1" cy="37.5" r="1.35" fill="#dc969c"/>
<circle cx="423.2" cy="37.5" r="1.35" fill="#9c9292"/>
<circle cx="440.4" cy="40.3" r="1.35" fill="#dc969c"/>
<circle cx="443.3" cy="37.9" r="1.35" fill="#dc969c"/>
<circle cx="441.7" cy="50.6" r="1.35" fill="#7a86cc"/>
<circle cx="464.9" cy="44.4" r="1.35" fill="#9c9292"/>
<circle cx="397.1" cy="54.2" r="1.35" fill="#9c9292"/>
<circle cx="396.3" cy="58.8" r="1.35" fill="#dc969c"/>
<circle cx="398.2" cy="63.7" r="1.35" fill="#dc969c"/>
<circle cx="421.6" cy="64.0" r="1.35" fill="#9c9292"/>
<circle cx="421.6" cy="66.4" r="1.35" fill="#7a86cc"/>
<circle cx="452.6" cy="61.5" r="1.35" fill="#dc969c"/>
<circle cx="456.7" cy="60.4" r="1.35" fill="#dc969c"/>
<circle cx="454.7" cy="56.1" r="1.35" fill="#7a86cc"/>
<circle cx="464.5" cy="60.4" r="1.35" fill="#9c9292"/>
<circle cx="439.1" cy="71.3" r="1.35" fill="#dc969c"/>
<circle cx="393.3" cy="73.8" r="1.35" fill="#dc969c"/>
<circle cx="409.0" cy="73.8" r="1.35" fill="#dc969c"/>
<circle cx="436.8" cy="75.1" r="1.35" fill="#dc969c"/>
<circle cx="398.2" cy="78.7" r="1.35" fill="#7a86cc"/>
<circle cx="456.4" cy="77.4" r="1.35" fill="#dc969c"/>
<circle cx="374.2" cy="84.9" r="1.35" fill="#9c9292"/>
<circle cx="400.9" cy="84.4" r="1.35" fill="#9c9292"/>
<circle cx="441.7" cy="83.9" r="1.35" fill="#9c9292"/>
<circle cx="456.4" cy="85.7" r="1.35" fill="#9c9292"/>
<circle cx="429.3" cy="88.8" r="1.35" fill="#dc969c"/>
<circle cx="448.2" cy="88.5" r="1.35" fill="#9c9292"/>
<circle cx="441.2" cy="91.4" r="1.35" fill="#dc969c"/>
<circle cx="461.1" cy="91.4" r="1.35" fill="#dc969c"/>
<circle cx="364.0" cy="96.6" r="1.35" fill="#7a86cc"/>
<circle cx="380.3" cy="104.8" r="1.35" fill="#9c9292"/>
<circle cx="398.2" cy="106.8" r="1.35" fill="#dc969c"/>
<circle cx="418.3" cy="106.1" r="1.35" fill="#dc969c"/>
<circle cx="422.4" cy="102.3" r="1.35" fill="#dc969c"/>
<circle cx="427.8" cy="102.3" r="1.35" fill="#dc969c"/>
<circle cx="445.6" cy="109.7" r="1.35" fill="#dc969c"/>
<circle cx="459.6" cy="106.4" r="1.35" fill="#7a86cc"/>
<circle cx="458.3" cy="109.4" r="1.35" fill="#7a86cc"/>
<circle cx="484.1" cy="16.3" r="1.35" fill="#9c9292"/>
<circle cx="499.3" cy="18.3" r="1.35" fill="#9c9292"/>
<circle cx="513.2" cy="20.7" r="1.35" fill="#dc969c"/>
<circle cx="524.3" cy="19.1" r="1.35" fill="#9c9292"/>
<circle cx="537.7" cy="20.2" r="1.35" fill="#dc969c"/>
<circle cx="542.2" cy="18.3" r="1.35" fill="#9c9292"/>
<circle cx="556.4" cy="20.7" r="1.35" fill="#dc969c"/>
<circle cx="575.2" cy="18.3" r="1.35" fill="#9c9292"/>
<circle cx="576.9" cy="22.8" r="1.35" fill="#dc969c"/>
<circle cx="500.4" cy="26.8" r="1.35" fill="#9c9292"/>
<circle cx="502.6" cy="32.1" r="1.35" fill="#9c9292"/>
<circle cx="493.9" cy="31.0" r="1.35" fill="#7a86cc"/>
<circle cx="548.8" cy="26.8" r="1.35" fill="#dc969c"/>
<circle cx="563.5" cy="24.5" r="1.35" fill="#9c9292"/>
<circle cx="541.8" cy="31.3" r="1.35" fill="#7a86cc"/>
<circle cx="531.1" cy="37.0" r="1.35" fill="#7a86cc"/>
<circle cx="475.6" cy="39.8" r="1.35" fill="#9c9292"/>
<circle cx="522.7" cy="40.3" r="1.35" fill="#dc969c"/>
<circle cx="557.6" cy="39.8" r="1.35" fill="#7a86cc"/>
<circle cx="552.0" cy="44.7" r="1.35" fill="#dc969c"/>
<circle cx="556.0" cy="45.2" r="1.35" fill="#dc969c"/>
<circle cx="571.1" cy="49.0" r="1.35" fill="#7a86cc"/>
<circle cx="504.2" cy="53.4" r="1.35" fill="#dc969c"/>
<circle cx="559.7" cy="55.0" r="1.35" fill="#7a86cc"/>
<circle cx="485.1" cy="60.4" r="1.35" fill="#9c9292"/>
<circle cx="544.5" cy="61.5" r="1.35" fill="#dc969c"/>
<circle cx="583.4" cy="64.8" r="1.35" fill="#9c9292"/>
<circle cx="477.6" cy="70.2" r="1.35" fill="#9c9292"/>
<circle cx="498.2" cy="70.8" r="1.35" fill="#7a86cc"/>
<circle cx="561.3" cy="68.1" r="1.35" fill="#7a86cc"/>
<circle cx="511.2" cy="67.6" r="1.35" fill="#9c9292"/>
<circle cx="533.6" cy="76.2" r="1.35" fill="#dc969c"/>
<circle cx="576.5" cy="75.4" r="1.35" fill="#7a86cc"/>
<circle cx="483.5" cy="86.0" r="1.35" fill="#9c9292"/>
<circle cx="511.9" cy="86.5" r="1.35" fill="#9c9292"/>
<circle cx="538.5" cy="86.0" r="1.35" fill="#9c9292"/>
<circle cx="561.3" cy="82.8" r="1.35" fill="#dc969c"/>
<circle cx="580.1" cy="84.9" r="1.35" fill="#9c9292"/>
<circle cx="557.6" cy="90.1" r="1.35" fill="#dc969c"/>
<circle cx="567.9" cy="90.1" r="1.35" fill="#dc969c"/>
<circle cx="500.4" cy="93.0" r="1.35" fill="#9c9292"/>
<circle cx="481.8" cy="95.3" r="1.35" fill="#dc969c"/>
<circle cx="572.0" cy="95.8" r="1.35" fill="#dc969c"/>
<circle cx="519.4" cy="98.6" r="1.35" fill="#9c9292"/>
<circle cx="527.1" cy="99.1" r="1.35" fill="#9c9292"/>
<circle cx="582.1" cy="98.3" r="1.35" fill="#9c9292"/>
<circle cx="480.9" cy="104.5" r="1.35" fill="#7a86cc"/>
<circle cx="538.5" cy="106.4" r="1.35" fill="#9c9292"/>
<circle cx="567.1" cy="107.2" r="1.35" fill="#dc969c"/>
<circle cx="379.1" cy="122.6" r="1.35" fill="#9c9292"/>
<circle cx="410.7" cy="122.6" r="1.35" fill="#9c9292"/>
<circle cx="411.3" cy="123.8" r="1.35" fill="#9c9292"/>
<circle cx="423.2" cy="125.1" r="1.35" fill="#dc969c"/>
<circle cx="366.9" cy="129.1" r="1.35" fill="#9c9292"/>
<circle cx="382.4" cy="134.0" r="1.35" fill="#9c9292"/>
<circle cx="399.6" cy="133.6" r="1.35" fill="#9c9292"/>
<circle cx="431.4" cy="130.8" r="1.35" fill="#dc969c"/>
<circle cx="401.2" cy="147.1" r="1.35" fill="#7a86cc"/>
<circle cx="364.4" cy="148.7" r="1.35" fill="#dc969c"/>
<circle cx="402.8" cy="156.4" r="1.35" fill="#9c9292"/>
<circle cx="380.8" cy="159.3" r="1.35" fill="#dc969c"/>
<circle cx="372.6" cy="162.9" r="1.35" fill="#dc969c"/>
<circle cx="442.0" cy="166.7" r="1.35" fill="#9c9292"/>
<circle cx="459.6" cy="164.6" r="1.35" fill="#9c9292"/>
<circle cx="383.2" cy="173.7" r="1.35" fill="#7a86cc"/>
<circle cx="383.2" cy="177.6" r="1.35" fill="#dc969c"/>
<circle cx="460.0" cy="175.3" r="1.35" fill="#dc969c"/>
<circle cx="469.8" cy="176.0" r="1.35" fill="#9c9292"/>
<circle cx="423.2" cy="188.7" r="1.35" fill="#dc969c"/>
<circle cx="402.8" cy="193.3" r="1.35" fill="#dc969c"/>
<circle cx="437.6" cy="192.8" r="1.35" fill="#9c9292"/>
<circle cx="442.8" cy="192.8" r="1.35" fill="#9c9292"/>
<circle cx="453.4" cy="190.0" r="1.35" fill="#dc969c"/>
<circle cx="464.5" cy="196.6" r="1.35" fill="#dc969c"/>
<circle cx="371.8" cy="193.6" r="1.35" fill="#9c9292"/>
<circle cx="402.5" cy="199.3" r="1.35" fill="#9c9292"/>
<circle cx="416.7" cy="199.3" r="1.35" fill="#9c9292"/>
<circle cx="437.1" cy="206.7" r="1.35" fill="#dc969c"/>
<circle cx="461.6" cy="117.7" r="1.35" fill="#9c9292"/>
<circle cx="467.8" cy="117.7" r="1.35" fill="#9c9292"/>
<circle cx="482.2" cy="119.3" r="1.35" fill="#dc969c"/>
<circle cx="523.8" cy="119.3" r="1.35" fill="#9c9292"/>
<circle cx="524.3" cy="121.5" r="1.35" fill="#9c9292"/>
<circle cx="556.4" cy="115.6" r="1.35" fill="#9c9292"/>
<circle cx="580.1" cy="117.2" r="1.35" fill="#9c9292"/>
<circle cx="560.0" cy="125.4" r="1.35" fill="#9c9292"/>
<circle cx="494.9" cy="133.6" r="1.35" fill="#dc969c"/>
<circle cx="511.6" cy="130.8" r="1.35" fill="#9c9292"/>
<circle cx="487.4" cy="137.8" r="1.35" fill="#9c9292"/>
<circle cx="479.7" cy="141.9" r="1.35" fill="#dc969c"/>
<circle cx="537.3" cy="140.1" r="1.35" fill="#9c9292"/>
<circle cx="552.4" cy="140.1" r="1.35" fill="#9c9292"/>
<circle cx="560.0" cy="142.5" r="1.35" fill="#9c9292"/>
<circle cx="579.3" cy="135.2" r="1.35" fill="#dc969c"/>
<circle cx="482.2" cy="147.6" r="1.35" fill="#dc969c"/>
<circle cx="507.5" cy="148.2" r="1.35" fill="#9c9292"/>
<circle cx="521.0" cy="154.8" r="1.35" fill="#9c9292"/>
<circle cx="548.3" cy="154.4" r="1.35" fill="#9c9292"/>
<circle cx="567.9" cy="152.0" r="1.35" fill="#7a86cc"/>
<circle cx="503.1" cy="165.1" r="1.35" fill="#9c9292"/>
<circle cx="509.6" cy="166.7" r="1.35" fill="#dc969c"/>
<circle cx="513.2" cy="169.5" r="1.35" fill="#9c9292"/>
<circle cx="499.8" cy="171.6" r="1.35" fill="#9c9292"/>
<circle cx="542.2" cy="165.1" r="1.35" fill="#9c9292"/>
<circle cx="563.0" cy="171.6" r="1.35" fill="#9c9292"/>
<circle cx="525.9" cy="182.2" r="1.35" fill="#9c9292"/>
<circle cx="557.3" cy="185.1" r="1.35" fill="#9c9292"/>
<circle cx="560.2" cy="187.4" r="1.35" fill="#9c9292"/>
<circle cx="477.6" cy="199.3" r="1.35" fill="#9c9292"/>
<circle cx="516.8" cy="198.0" r="1.35" fill="#9c9292"/>
<circle cx="548.3" cy="197.2" r="1.35" fill="#9c9292"/>
<circle cx="573.9" cy="196.1" r="1.35" fill="#9c9292"/>
<line x1="364.4" y1="206.6" x2="582.8" y2="17.7" stroke="#8a7e7e" stroke-width="1.1" stroke-dasharray="3,2.2"/>
<line x1="421.9" y1="15.7" x2="421.9" y2="208.6" stroke="#8a8a8a" stroke-width="1" stroke-dasharray="4,3"/>
<line x1="362.4" y1="156.9" x2="584.8" y2="156.9" stroke="#8a8a8a" stroke-width="1" stroke-dasharray="4,3"/>
<path d="M434.80,143.10 C434.80,145.93 435.55,148.35 437.70,150.10 C439.85,151.85 444.20,153.27 447.70,153.60 C451.20,153.93 455.53,153.35 458.70,152.10 C461.87,150.85 464.87,148.60 466.70,146.10 C468.53,143.60 469.37,140.27 469.70,137.10 C470.03,133.93 469.87,129.52 468.70,127.10 C467.53,124.68 465.37,123.35 462.70,122.60 C460.03,121.85 455.87,122.02 452.70,122.60 C449.53,123.18 446.20,124.35 443.70,126.10 C441.20,127.85 439.18,130.27 437.70,133.10 C436.22,135.93 434.80,140.27 434.80,143.10Z" fill="#c92c39" stroke="#c41e2c" stroke-width="1.5"/>
<path d="M434.80,143.10 C434.80,145.93 435.55,148.35 437.70,150.10 C439.85,151.85 444.20,153.27 447.70,153.60 C451.20,153.93 455.53,153.35 458.70,152.10 C461.87,150.85 464.87,148.60 466.70,146.10 C468.53,143.60 469.37,140.27 469.70,137.10 C470.03,133.93 469.87,129.52 468.70,127.10 C467.53,124.68 465.37,123.35 462.70,122.60 C460.03,121.85 455.87,122.02 452.70,122.60 C449.53,123.18 446.20,124.35 443.70,126.10 C441.20,127.85 439.18,130.27 437.70,133.10 C436.22,135.93 434.80,140.27 434.80,143.10Z" transform="translate(451.90,138.70) scale(0.9) translate(-451.90,-138.70)" vector-effect="non-scaling-stroke" fill="#d6525d" stroke="#c41e2c" stroke-width="0.7" stroke-opacity="0.75"/>
<path d="M434.80,143.10 C434.80,145.93 435.55,148.35 437.70,150.10 C439.85,151.85 444.20,153.27 447.70,153.60 C451.20,153.93 455.53,153.35 458.70,152.10 C461.87,150.85 464.87,148.60 466.70,146.10 C468.53,143.60 469.37,140.27 469.70,137.10 C470.03,133.93 469.87,129.52 468.70,127.10 C467.53,124.68 465.37,123.35 462.70,122.60 C460.03,121.85 455.87,122.02 452.70,122.60 C449.53,123.18 446.20,124.35 443.70,126.10 C441.20,127.85 439.18,130.27 437.70,133.10 C436.22,135.93 434.80,140.27 434.80,143.10Z" transform="translate(451.90,138.70) scale(0.8) translate(-451.90,-138.70)" vector-effect="non-scaling-stroke" fill="#dd6972" stroke="#c41e2c" stroke-width="0.7" stroke-opacity="0.75"/>
<path d="M434.80,143.10 C434.80,145.93 435.55,148.35 437.70,150.10 C439.85,151.85 444.20,153.27 447.70,153.60 C451.20,153.93 455.53,153.35 458.70,152.10 C461.87,150.85 464.87,148.60 466.70,146.10 C468.53,143.60 469.37,140.27 469.70,137.10 C470.03,133.93 469.87,129.52 468.70,127.10 C467.53,124.68 465.37,123.35 462.70,122.60 C460.03,121.85 455.87,122.02 452.70,122.60 C449.53,123.18 446.20,124.35 443.70,126.10 C441.20,127.85 439.18,130.27 437.70,133.10 C436.22,135.93 434.80,140.27 434.80,143.10Z" transform="translate(451.90,138.70) scale(0.7) translate(-451.90,-138.70)" vector-effect="non-scaling-stroke" fill="#e48087" stroke="#c41e2c" stroke-width="0.7" stroke-opacity="0.75"/>
<path d="M434.80,143.10 C434.80,145.93 435.55,148.35 437.70,150.10 C439.85,151.85 444.20,153.27 447.70,153.60 C451.20,153.93 455.53,153.35 458.70,152.10 C461.87,150.85 464.87,148.60 466.70,146.10 C468.53,143.60 469.37,140.27 469.70,137.10 C470.03,133.93 469.87,129.52 468.70,127.10 C467.53,124.68 465.37,123.35 462.70,122.60 C460.03,121.85 455.87,122.02 452.70,122.60 C449.53,123.18 446.20,124.35 443.70,126.10 C441.20,127.85 439.18,130.27 437.70,133.10 C436.22,135.93 434.80,140.27 434.80,143.10Z" transform="translate(451.90,138.70) scale(0.62) translate(-451.90,-138.70)" vector-effect="non-scaling-stroke" fill="#ec969c" stroke="#c41e2c" stroke-width="0.7" stroke-opacity="0.75"/>
<path d="M434.80,143.10 C434.80,145.93 435.55,148.35 437.70,150.10 C439.85,151.85 444.20,153.27 447.70,153.60 C451.20,153.93 455.53,153.35 458.70,152.10 C461.87,150.85 464.87,148.60 466.70,146.10 C468.53,143.60 469.37,140.27 469.70,137.10 C470.03,133.93 469.87,129.52 468.70,127.10 C467.53,124.68 465.37,123.35 462.70,122.60 C460.03,121.85 455.87,122.02 452.70,122.60 C449.53,123.18 446.20,124.35 443.70,126.10 C441.20,127.85 439.18,130.27 437.70,133.10 C436.22,135.93 434.80,140.27 434.80,143.10Z" transform="translate(451.90,138.70) scale(0.52) translate(-451.90,-138.70)" vector-effect="non-scaling-stroke" fill="#ffffff" stroke="#c41e2c" stroke-width="0.9"/>
<path d="M434.80,143.10 C434.80,145.93 435.55,148.35 437.70,150.10 C439.85,151.85 444.20,153.27 447.70,153.60 C451.20,153.93 455.53,153.35 458.70,152.10 C461.87,150.85 464.87,148.60 466.70,146.10 C468.53,143.60 469.37,140.27 469.70,137.10 C470.03,133.93 469.87,129.52 468.70,127.10 C467.53,124.68 465.37,123.35 462.70,122.60 C460.03,121.85 455.87,122.02 452.70,122.60 C449.53,123.18 446.20,124.35 443.70,126.10 C441.20,127.85 439.18,130.27 437.70,133.10 C436.22,135.93 434.80,140.27 434.80,143.10Z" transform="translate(451.90,138.70) scale(0.36) translate(-451.90,-138.70)" vector-effect="non-scaling-stroke" fill="none" stroke="#c41e2c" stroke-width="0.8"/>
<path d="M434.80,143.10 C434.80,145.93 435.55,148.35 437.70,150.10 C439.85,151.85 444.20,153.27 447.70,153.60 C451.20,153.93 455.53,153.35 458.70,152.10 C461.87,150.85 464.87,148.60 466.70,146.10 C468.53,143.60 469.37,140.27 469.70,137.10 C470.03,133.93 469.87,129.52 468.70,127.10 C467.53,124.68 465.37,123.35 462.70,122.60 C460.03,121.85 455.87,122.02 452.70,122.60 C449.53,123.18 446.20,124.35 443.70,126.10 C441.20,127.85 439.18,130.27 437.70,133.10 C436.22,135.93 434.80,140.27 434.80,143.10Z" transform="translate(451.90,138.70) scale(0.18) translate(-451.90,-138.70)" vector-effect="non-scaling-stroke" fill="none" stroke="#c41e2c" stroke-width="0.8"/>
<path d="M458.10,129.40 C458.10,130.23 457.83,131.18 457.38,131.90 C456.93,132.62 456.18,133.31 455.40,133.73 C454.62,134.15 453.60,134.40 452.70,134.40 C451.80,134.40 450.78,134.15 450.00,133.73 C449.22,133.31 448.47,132.62 448.02,131.90 C447.57,131.18 447.30,130.23 447.30,129.40 C447.30,128.57 447.57,127.62 448.02,126.90 C448.47,126.18 449.22,125.49 450.00,125.07 C450.78,124.65 451.80,124.40 452.70,124.40 C453.60,124.40 454.62,124.65 455.40,125.07 C456.18,125.49 456.93,126.18 457.38,126.90 C457.83,127.62 458.10,128.57 458.10,129.40Z" fill="#1a27b6" stroke="#0a18b0" stroke-width="1.5"/>
<path d="M458.10,129.40 C458.10,130.23 457.83,131.18 457.38,131.90 C456.93,132.62 456.18,133.31 455.40,133.73 C454.62,134.15 453.60,134.40 452.70,134.40 C451.80,134.40 450.78,134.15 450.00,133.73 C449.22,133.31 448.47,132.62 448.02,131.90 C447.57,131.18 447.30,130.23 447.30,129.40 C447.30,128.57 447.57,127.62 448.02,126.90 C448.47,126.18 449.22,125.49 450.00,125.07 C450.78,124.65 451.80,124.40 452.70,124.40 C453.60,124.40 454.62,124.65 455.40,125.07 C456.18,125.49 456.93,126.18 457.38,126.90 C457.83,127.62 458.10,128.57 458.10,129.40Z" transform="translate(452.70,129.40) scale(0.7) translate(-452.70,-129.40)" vector-effect="non-scaling-stroke" fill="#8c96e6" stroke="#0a18b0" stroke-width="0.7" stroke-opacity="0.75"/>
<path d="M458.10,129.40 C458.10,130.23 457.83,131.18 457.38,131.90 C456.93,132.62 456.18,133.31 455.40,133.73 C454.62,134.15 453.60,134.40 452.70,134.40 C451.80,134.40 450.78,134.15 450.00,133.73 C449.22,133.31 448.47,132.62 448.02,131.90 C447.57,131.18 447.30,130.23 447.30,129.40 C447.30,128.57 447.57,127.62 448.02,126.90 C448.47,126.18 449.22,125.49 450.00,125.07 C450.78,124.65 451.80,124.40 452.70,124.40 C453.60,124.40 454.62,124.65 455.40,125.07 C456.18,125.49 456.93,126.18 457.38,126.90 C457.83,127.62 458.10,128.57 458.10,129.40Z" transform="translate(452.70,129.40) scale(0.4) translate(-452.70,-129.40)" vector-effect="non-scaling-stroke" fill="none" stroke="#8090e0" stroke-width="0.8"/>
<path d="M414.43,165.32 C415.35,166.63 415.89,168.46 415.87,170.17 C415.84,171.88 415.24,173.92 414.28,175.57 C413.32,177.22 411.74,178.92 410.11,180.06 C408.47,181.21 406.33,182.11 404.45,182.45 C402.58,182.79 400.45,182.65 398.84,182.09 C397.23,181.53 395.69,180.39 394.77,179.08 C393.85,177.77 393.31,175.94 393.33,174.23 C393.36,172.52 393.96,170.48 394.92,168.83 C395.88,167.18 397.46,165.48 399.09,164.34 C400.73,163.19 402.87,162.29 404.75,161.95 C406.62,161.61 408.75,161.75 410.36,162.31 C411.97,162.87 413.51,164.01 414.43,165.32Z" fill="#c92c39" stroke="#c41e2c" stroke-width="1.5"/>
<path d="M413.71,167.90 C414.43,169.14 414.69,170.87 414.40,172.47 C414.11,174.07 413.20,175.97 411.98,177.50 C410.76,179.03 408.92,180.60 407.10,181.65 C405.28,182.70 403.00,183.51 401.07,183.80 C399.13,184.09 397.03,183.93 395.50,183.38 C393.97,182.83 392.60,181.74 391.89,180.50 C391.17,179.26 390.91,177.53 391.20,175.93 C391.49,174.33 392.40,172.43 393.62,170.90 C394.84,169.37 396.68,167.80 398.50,166.75 C400.32,165.70 402.60,164.89 404.53,164.60 C406.47,164.31 408.57,164.47 410.10,165.02 C411.63,165.57 413.00,166.66 413.71,167.90Z" fill="#1a27b6" stroke="#0a18b0" stroke-width="1.5"/>
<path d="M413.71,167.90 C414.43,169.14 414.69,170.87 414.40,172.47 C414.11,174.07 413.20,175.97 411.98,177.50 C410.76,179.03 408.92,180.60 407.10,181.65 C405.28,182.70 403.00,183.51 401.07,183.80 C399.13,184.09 397.03,183.93 395.50,183.38 C393.97,182.83 392.60,181.74 391.89,180.50 C391.17,179.26 390.91,177.53 391.20,175.93 C391.49,174.33 392.40,172.43 393.62,170.90 C394.84,169.37 396.68,167.80 398.50,166.75 C400.32,165.70 402.60,164.89 404.53,164.60 C406.47,164.31 408.57,164.47 410.10,165.02 C411.63,165.57 413.00,166.66 413.71,167.90Z" transform="translate(402.80,174.20) scale(0.84) translate(-402.80,-174.20)" vector-effect="non-scaling-stroke" fill="#4b57cb" stroke="#0a18b0" stroke-width="0.7" stroke-opacity="0.75"/>
<path d="M413.71,167.90 C414.43,169.14 414.69,170.87 414.40,172.47 C414.11,174.07 413.20,175.97 411.98,177.50 C410.76,179.03 408.92,180.60 407.10,181.65 C405.28,182.70 403.00,183.51 401.07,183.80 C399.13,184.09 397.03,183.93 395.50,183.38 C393.97,182.83 392.60,181.74 391.89,180.50 C391.17,179.26 390.91,177.53 391.20,175.93 C391.49,174.33 392.40,172.43 393.62,170.90 C394.84,169.37 396.68,167.80 398.50,166.75 C400.32,165.70 402.60,164.89 404.53,164.60 C406.47,164.31 408.57,164.47 410.10,165.02 C411.63,165.57 413.00,166.66 413.71,167.90Z" transform="translate(402.80,174.20) scale(0.7) translate(-402.80,-174.20)" vector-effect="non-scaling-stroke" fill="#6c76d8" stroke="#0a18b0" stroke-width="0.7" stroke-opacity="0.75"/>
<path d="M413.71,167.90 C414.43,169.14 414.69,170.87 414.40,172.47 C414.11,174.07 413.20,175.97 411.98,177.50 C410.76,179.03 408.92,180.60 407.10,181.65 C405.28,182.70 403.00,183.51 401.07,183.80 C399.13,184.09 397.03,183.93 395.50,183.38 C393.97,182.83 392.60,181.74 391.89,180.50 C391.17,179.26 390.91,177.53 391.20,175.93 C391.49,174.33 392.40,172.43 393.62,170.90 C394.84,169.37 396.68,167.80 398.50,166.75 C400.32,165.70 402.60,164.89 404.53,164.60 C406.47,164.31 408.57,164.47 410.10,165.02 C411.63,165.57 413.00,166.66 413.71,167.90Z" transform="translate(402.80,174.20) scale(0.58) translate(-402.80,-174.20)" vector-effect="non-scaling-stroke" fill="#8c96e6" stroke="#0a18b0" stroke-width="0.7" stroke-opacity="0.75"/>
<path d="M413.71,167.90 C414.43,169.14 414.69,170.87 414.40,172.47 C414.11,174.07 413.20,175.97 411.98,177.50 C410.76,179.03 408.92,180.60 407.10,181.65 C405.28,182.70 403.00,183.51 401.07,183.80 C399.13,184.09 397.03,183.93 395.50,183.38 C393.97,182.83 392.60,181.74 391.89,180.50 C391.17,179.26 390.91,177.53 391.20,175.93 C391.49,174.33 392.40,172.43 393.62,170.90 C394.84,169.37 396.68,167.80 398.50,166.75 C400.32,165.70 402.60,164.89 404.53,164.60 C406.47,164.31 408.57,164.47 410.10,165.02 C411.63,165.57 413.00,166.66 413.71,167.90Z" transform="translate(402.80,174.20) scale(0.36) translate(-402.80,-174.20)" vector-effect="non-scaling-stroke" fill="#e8c8dc" stroke="#d08090" stroke-width="0.9"/>
<path d="M413.71,167.90 C414.43,169.14 414.69,170.87 414.40,172.47 C414.11,174.07 413.20,175.97 411.98,177.50 C410.76,179.03 408.92,180.60 407.10,181.65 C405.28,182.70 403.00,183.51 401.07,183.80 C399.13,184.09 397.03,183.93 395.50,183.38 C393.97,182.83 392.60,181.74 391.89,180.50 C391.17,179.26 390.91,177.53 391.20,175.93 C391.49,174.33 392.40,172.43 393.62,170.90 C394.84,169.37 396.68,167.80 398.50,166.75 C400.32,165.70 402.60,164.89 404.53,164.60 C406.47,164.31 408.57,164.47 410.10,165.02 C411.63,165.57 413.00,166.66 413.71,167.90Z" transform="translate(402.80,174.20) scale(0.2) translate(-402.80,-174.20)" vector-effect="non-scaling-stroke" fill="none" stroke="#d08090" stroke-width="0.8"/>
<path d="M444.50,45.00 C444.50,46.22 445.58,48.05 447.00,48.80 C448.42,49.55 451.00,49.67 453.00,49.50 C455.00,49.33 457.50,48.47 459.00,47.80 C460.50,47.13 462.00,46.42 462.00,45.50 C462.00,44.58 460.50,43.12 459.00,42.30 C457.50,41.48 455.00,40.73 453.00,40.60 C451.00,40.47 448.42,40.77 447.00,41.50 C445.58,42.23 444.50,43.78 444.50,45.00Z" fill="#1a27b6" stroke="#0a18b0" stroke-width="1.5"/>
<path d="M444.50,45.00 C444.50,46.22 445.58,48.05 447.00,48.80 C448.42,49.55 451.00,49.67 453.00,49.50 C455.00,49.33 457.50,48.47 459.00,47.80 C460.50,47.13 462.00,46.42 462.00,45.50 C462.00,44.58 460.50,43.12 459.00,42.30 C457.50,41.48 455.00,40.73 453.00,40.60 C451.00,40.47 448.42,40.77 447.00,41.50 C445.58,42.23 444.50,43.78 444.50,45.00Z" transform="translate(451.50,45.00) scale(0.8) translate(-451.50,-45.00)" vector-effect="non-scaling-stroke" fill="#5b67d2" stroke="#0a18b0" stroke-width="0.7" stroke-opacity="0.75"/>
<path d="M444.50,45.00 C444.50,46.22 445.58,48.05 447.00,48.80 C448.42,49.55 451.00,49.67 453.00,49.50 C455.00,49.33 457.50,48.47 459.00,47.80 C460.50,47.13 462.00,46.42 462.00,45.50 C462.00,44.58 460.50,43.12 459.00,42.30 C457.50,41.48 455.00,40.73 453.00,40.60 C451.00,40.47 448.42,40.77 447.00,41.50 C445.58,42.23 444.50,43.78 444.50,45.00Z" transform="translate(451.50,45.00) scale(0.65) translate(-451.50,-45.00)" vector-effect="non-scaling-stroke" fill="#8c96e6" stroke="#0a18b0" stroke-width="0.7" stroke-opacity="0.75"/>
<path d="M444.50,45.00 C444.50,46.22 445.58,48.05 447.00,48.80 C448.42,49.55 451.00,49.67 453.00,49.50 C455.00,49.33 457.50,48.47 459.00,47.80 C460.50,47.13 462.00,46.42 462.00,45.50 C462.00,44.58 460.50,43.12 459.00,42.30 C457.50,41.48 455.00,40.73 453.00,40.60 C451.00,40.47 448.42,40.77 447.00,41.50 C445.58,42.23 444.50,43.78 444.50,45.00Z" transform="translate(451.50,45.00) scale(0.5) translate(-451.50,-45.00)" vector-effect="non-scaling-stroke" fill="#ffffff" stroke="#3040c8" stroke-width="0.9"/>
<path d="M444.50,45.00 C444.50,46.22 445.58,48.05 447.00,48.80 C448.42,49.55 451.00,49.67 453.00,49.50 C455.00,49.33 457.50,48.47 459.00,47.80 C460.50,47.13 462.00,46.42 462.00,45.50 C462.00,44.58 460.50,43.12 459.00,42.30 C457.50,41.48 455.00,40.73 453.00,40.60 C451.00,40.47 448.42,40.77 447.00,41.50 C445.58,42.23 444.50,43.78 444.50,45.00Z" transform="translate(451.50,45.00) scale(0.22) translate(-451.50,-45.00)" vector-effect="non-scaling-stroke" fill="none" stroke="#3040c8" stroke-width="0.8"/>
<path d="M511.40,59.10 C511.43,61.10 511.58,63.92 513.50,66.00 C515.42,68.08 519.73,71.57 522.90,71.60 C526.07,71.63 530.07,68.22 532.50,66.20 C534.93,64.18 536.17,61.75 537.50,59.50 C538.83,57.25 540.27,54.68 540.50,52.70 C540.73,50.72 540.33,48.77 538.90,47.60 C537.47,46.43 535.10,45.48 531.90,45.70 C528.70,45.92 522.80,47.52 519.70,48.90 C516.60,50.28 514.68,52.30 513.30,54.00 C511.92,55.70 511.37,57.10 511.40,59.10Z" fill="#1a27b6" stroke="#0a18b0" stroke-width="1.5"/>
<path d="M511.40,59.10 C511.43,61.10 511.58,63.92 513.50,66.00 C515.42,68.08 519.73,71.57 522.90,71.60 C526.07,71.63 530.07,68.22 532.50,66.20 C534.93,64.18 536.17,61.75 537.50,59.50 C538.83,57.25 540.27,54.68 540.50,52.70 C540.73,50.72 540.33,48.77 538.90,47.60 C537.47,46.43 535.10,45.48 531.90,45.70 C528.70,45.92 522.80,47.52 519.70,48.90 C516.60,50.28 514.68,52.30 513.30,54.00 C511.92,55.70 511.37,57.10 511.40,59.10Z" transform="translate(526.10,57.80) scale(0.9) translate(-526.10,-57.80)" vector-effect="non-scaling-stroke" fill="#434fc8" stroke="#0a18b0" stroke-width="0.7" stroke-opacity="0.75"/>
<path d="M511.40,59.10 C511.43,61.10 511.58,63.92 513.50,66.00 C515.42,68.08 519.73,71.57 522.90,71.60 C526.07,71.63 530.07,68.22 532.50,66.20 C534.93,64.18 536.17,61.75 537.50,59.50 C538.83,57.25 540.27,54.68 540.50,52.70 C540.73,50.72 540.33,48.77 538.90,47.60 C537.47,46.43 535.10,45.48 531.90,45.70 C528.70,45.92 522.80,47.52 519.70,48.90 C516.60,50.28 514.68,52.30 513.30,54.00 C511.92,55.70 511.37,57.10 511.40,59.10Z" transform="translate(526.10,57.80) scale(0.8) translate(-526.10,-57.80)" vector-effect="non-scaling-stroke" fill="#5b67d2" stroke="#0a18b0" stroke-width="0.7" stroke-opacity="0.75"/>
<path d="M511.40,59.10 C511.43,61.10 511.58,63.92 513.50,66.00 C515.42,68.08 519.73,71.57 522.90,71.60 C526.07,71.63 530.07,68.22 532.50,66.20 C534.93,64.18 536.17,61.75 537.50,59.50 C538.83,57.25 540.27,54.68 540.50,52.70 C540.73,50.72 540.33,48.77 538.90,47.60 C537.47,46.43 535.10,45.48 531.90,45.70 C528.70,45.92 522.80,47.52 519.70,48.90 C516.60,50.28 514.68,52.30 513.30,54.00 C511.92,55.70 511.37,57.10 511.40,59.10Z" transform="translate(526.10,57.80) scale(0.7) translate(-526.10,-57.80)" vector-effect="non-scaling-stroke" fill="#747edc" stroke="#0a18b0" stroke-width="0.7" stroke-opacity="0.75"/>
<path d="M511.40,59.10 C511.43,61.10 511.58,63.92 513.50,66.00 C515.42,68.08 519.73,71.57 522.90,71.60 C526.07,71.63 530.07,68.22 532.50,66.20 C534.93,64.18 536.17,61.75 537.50,59.50 C538.83,57.25 540.27,54.68 540.50,52.70 C540.73,50.72 540.33,48.77 538.90,47.60 C537.47,46.43 535.10,45.48 531.90,45.70 C528.70,45.92 522.80,47.52 519.70,48.90 C516.60,50.28 514.68,52.30 513.30,54.00 C511.92,55.70 511.37,57.10 511.40,59.10Z" transform="translate(526.10,57.80) scale(0.62) translate(-526.10,-57.80)" vector-effect="non-scaling-stroke" fill="#8c96e6" stroke="#0a18b0" stroke-width="0.7" stroke-opacity="0.75"/>
<path d="M511.40,59.10 C511.43,61.10 511.58,63.92 513.50,66.00 C515.42,68.08 519.73,71.57 522.90,71.60 C526.07,71.63 530.07,68.22 532.50,66.20 C534.93,64.18 536.17,61.75 537.50,59.50 C538.83,57.25 540.27,54.68 540.50,52.70 C540.73,50.72 540.33,48.77 538.90,47.60 C537.47,46.43 535.10,45.48 531.90,45.70 C528.70,45.92 522.80,47.52 519.70,48.90 C516.60,50.28 514.68,52.30 513.30,54.00 C511.92,55.70 511.37,57.10 511.40,59.10Z" transform="translate(526.10,57.80) scale(0.48) translate(-526.10,-57.80)" vector-effect="non-scaling-stroke" fill="#ffffff" stroke="#3040c0" stroke-width="0.9"/>
<path d="M511.40,59.10 C511.43,61.10 511.58,63.92 513.50,66.00 C515.42,68.08 519.73,71.57 522.90,71.60 C526.07,71.63 530.07,68.22 532.50,66.20 C534.93,64.18 536.17,61.75 537.50,59.50 C538.83,57.25 540.27,54.68 540.50,52.70 C540.73,50.72 540.33,48.77 538.90,47.60 C537.47,46.43 535.10,45.48 531.90,45.70 C528.70,45.92 522.80,47.52 519.70,48.90 C516.60,50.28 514.68,52.30 513.30,54.00 C511.92,55.70 511.37,57.10 511.40,59.10Z" transform="translate(526.10,57.80) scale(0.32) translate(-526.10,-57.80)" vector-effect="non-scaling-stroke" fill="none" stroke="#3040c0" stroke-width="0.8"/>
<ellipse cx="446" cy="21.4" rx="3" ry="3.8" transform="rotate(20 446 21.4)" fill="none" stroke="#d02030" stroke-width="0.9"/>
<ellipse cx="446" cy="21.4" rx="1.5" ry="2" transform="rotate(20 446 21.4)" fill="none" stroke="#d02030" stroke-width="0.7"/>
<circle cx="560.4" cy="31" r="2.8" fill="none" stroke="#d02030" stroke-width="0.9"/>
<rect x="362.4" y="15.7" width="222.4" height="192.9" fill="none" stroke="#8c8c8c" stroke-width="1.5"/>
<line x1="358.4" y1="22.6" x2="362.4" y2="22.6" stroke="#555" stroke-width="0.8" />
<text x="355.9" y="26.0" font-size="9.6" text-anchor="end" font-weight="normal" fill="#111" stroke="#111" stroke-width="0.35">6</text>
<line x1="358.4" y1="67.2" x2="362.4" y2="67.2" stroke="#555" stroke-width="0.8" />
<text x="355.9" y="70.6" font-size="9.6" text-anchor="end" font-weight="normal" fill="#111" stroke="#111" stroke-width="0.35">4</text>
<line x1="358.4" y1="112.0" x2="362.4" y2="112.0" stroke="#555" stroke-width="0.8" />
<text x="355.9" y="115.4" font-size="9.6" text-anchor="end" font-weight="normal" fill="#111" stroke="#111" stroke-width="0.35">2</text>
<line x1="358.4" y1="156.7" x2="362.4" y2="156.7" stroke="#555" stroke-width="0.8" />
<text x="356.9" y="159.4" font-size="7.6" text-anchor="end" font-weight="normal" fill="#222" >TSS</text>
<line x1="358.4" y1="201.5" x2="362.4" y2="201.5" stroke="#555" stroke-width="0.8" />
<text x="355.9" y="204.9" font-size="9.6" text-anchor="end" font-weight="normal" fill="#111" stroke="#111" stroke-width="0.35">-2</text>
<line x1="370.2" y1="208.6" x2="370.2" y2="212.6" stroke="#555" stroke-width="0.8" />
<text x="370.5" y="222.5" font-size="9.6" text-anchor="middle" font-weight="normal" fill="#111" stroke="#111" stroke-width="0.35">-2</text>
<line x1="421.9" y1="208.6" x2="421.9" y2="212.6" stroke="#555" stroke-width="0.8" />
<text x="421.9" y="222.1" font-size="7.6" text-anchor="middle" font-weight="normal" fill="#222" >TSS</text>
<line x1="473.3" y1="208.6" x2="473.3" y2="212.6" stroke="#555" stroke-width="0.8" />
<text x="473.6" y="222.5" font-size="9.6" text-anchor="middle" font-weight="normal" fill="#111" stroke="#111" stroke-width="0.35">2</text>
<line x1="525.3" y1="208.6" x2="525.3" y2="212.6" stroke="#555" stroke-width="0.8" />
<text x="525.6" y="222.5" font-size="9.6" text-anchor="middle" font-weight="normal" fill="#111" stroke="#111" stroke-width="0.35">4</text>
<line x1="576.8" y1="208.6" x2="576.8" y2="212.6" stroke="#555" stroke-width="0.8" />
<text x="577.1" y="222.5" font-size="9.6" text-anchor="middle" font-weight="normal" fill="#111" stroke="#111" stroke-width="0.35">6</text>
<text x="345.5" y="219.0" font-size="7.6" text-anchor="start" font-weight="normal" fill="#111" >(kb)</text>
<text x="463.6" y="236.9" font-size="13.2" text-anchor="middle" font-weight="bold" fill="#222" >HIF-1α</text>
<text transform="translate(339.5,119.2) rotate(-90)" font-size="13" font-weight="bold" text-anchor="middle"><tspan fill="#c8182a">TCF1(H)</tspan><tspan fill="#222">/</tspan><tspan fill="#263a90">TCF4(N)</tspan></text>
<rect x="190.7" y="255.7" width="100.3" height="8.3" fill="#000" />
<line x1="187.2" y1="259.8" x2="190.7" y2="259.8" stroke="#222" stroke-width="0.9" />
<text x="185.2" y="262.9" font-size="8.6" text-anchor="end" font-weight="bold" fill="#111" >Neurogenesis</text>
<rect x="190.7" y="268.8" width="78.7" height="8.3" fill="#000" />
<line x1="187.2" y1="273.0" x2="190.7" y2="273.0" stroke="#222" stroke-width="0.9" />
<text x="185.2" y="276.1" font-size="8.6" text-anchor="end" font-weight="bold" fill="#111" >Neuron part</text>
<rect x="190.7" y="282.0" width="69.8" height="8.3" fill="#000" />
<line x1="187.2" y1="286.1" x2="190.7" y2="286.1" stroke="#222" stroke-width="0.9" />
<text x="185.2" y="289.2" font-size="8.6" text-anchor="end" font-weight="bold" fill="#111" >Regulation of multicell. organismal dev.</text>
<rect x="190.7" y="295.1" width="69.8" height="8.3" fill="#000" />
<line x1="187.2" y1="299.2" x2="190.7" y2="299.2" stroke="#222" stroke-width="0.9" />
<text x="185.2" y="302.3" font-size="8.6" text-anchor="end" font-weight="bold" fill="#111" >Cell projection</text>
<rect x="190.7" y="308.2" width="67.9" height="8.3" fill="#000" />
<line x1="187.2" y1="312.4" x2="190.7" y2="312.4" stroke="#222" stroke-width="0.9" />
<text x="185.2" y="315.5" font-size="8.6" text-anchor="end" font-weight="bold" fill="#111" >Regulation of cell differentiation</text>
<rect x="190.7" y="321.4" width="66.7" height="8.3" fill="#000" />
<line x1="187.2" y1="325.5" x2="190.7" y2="325.5" stroke="#222" stroke-width="0.9" />
<text x="185.2" y="328.6" font-size="8.6" text-anchor="end" font-weight="bold" fill="#111" >Biological adhesion</text>
<rect x="190.7" y="334.5" width="66.7" height="8.3" fill="#000" />
<line x1="187.2" y1="338.6" x2="190.7" y2="338.6" stroke="#222" stroke-width="0.9" />
<text x="185.2" y="341.7" font-size="8.6" text-anchor="end" font-weight="bold" fill="#111" >Neuron projection</text>
<rect x="190.7" y="347.6" width="62.0" height="8.3" fill="#000" />
<line x1="187.2" y1="351.8" x2="190.7" y2="351.8" stroke="#222" stroke-width="0.9" />
<text x="185.2" y="354.9" font-size="8.6" text-anchor="end" font-weight="bold" fill="#111" >Neuron differentiation</text>
<rect x="190.7" y="360.7" width="58.7" height="8.3" fill="#000" />
<line x1="187.2" y1="364.9" x2="190.7" y2="364.9" stroke="#222" stroke-width="0.9" />
<text x="185.2" y="368.0" font-size="8.6" text-anchor="end" font-weight="bold" fill="#111" >Central nervous system development</text>
<rect x="190.7" y="373.9" width="57.7" height="8.3" fill="#000" />
<line x1="187.2" y1="378.0" x2="190.7" y2="378.0" stroke="#222" stroke-width="0.9" />
<text x="185.2" y="381.1" font-size="8.6" text-anchor="end" font-weight="bold" fill="#111" >Regulation of nervous system development</text>
<line x1="190.7" y1="251.0" x2="190.7" y2="387.3" stroke="#222" stroke-width="1.0" />
<line x1="190.7" y1="386.8" x2="299.2" y2="386.8" stroke="#222" stroke-width="1.0" />
<line x1="190.7" y1="386.8" x2="190.7" y2="390.4" stroke="#222" stroke-width="1.0" />
<text transform="translate(193.5,397.6) rotate(-45)" font-size="9.2" font-weight="bold" text-anchor="end" fill="#111">0</text>
<line x1="226.7" y1="386.8" x2="226.7" y2="390.4" stroke="#222" stroke-width="1.0" />
<text transform="translate(229.5,397.6) rotate(-45)" font-size="9.2" font-weight="bold" text-anchor="end" fill="#111">10</text>
<line x1="262.7" y1="386.8" x2="262.7" y2="390.4" stroke="#222" stroke-width="1.0" />
<text transform="translate(265.5,397.6) rotate(-45)" font-size="9.2" font-weight="bold" text-anchor="end" fill="#111">20</text>
<line x1="298.7" y1="386.8" x2="298.7" y2="390.4" stroke="#222" stroke-width="1.0" />
<text transform="translate(301.5,397.6) rotate(-45)" font-size="9.2" font-weight="bold" text-anchor="end" fill="#111">30</text>
<text x="244.5" y="417.0" font-size="10" font-weight="bold" text-anchor="middle" fill="#111">FDR (-log<tspan font-size="7" dy="2">10</tspan><tspan dy="-2">)</tspan></text>
<rect x="486.2" y="255.7" width="100.6" height="8.3" fill="#000" />
<line x1="482.7" y1="259.8" x2="486.2" y2="259.8" stroke="#222" stroke-width="0.9" />
<text x="481.0" y="262.9" font-size="8.6" text-anchor="end" font-weight="bold" fill="#111" >Neurogenesis</text>
<rect x="486.2" y="268.8" width="84.8" height="8.3" fill="#000" />
<line x1="482.7" y1="273.0" x2="486.2" y2="273.0" stroke="#222" stroke-width="0.9" />
<text x="481.0" y="276.1" font-size="8.6" text-anchor="end" font-weight="bold" fill="#111" >Cell development</text>
<rect x="486.2" y="282.0" width="84.3" height="8.3" fill="#000" />
<line x1="482.7" y1="286.1" x2="486.2" y2="286.1" stroke="#222" stroke-width="0.9" />
<text x="481.0" y="289.2" font-size="8.6" text-anchor="end" font-weight="bold" fill="#111" >Regulation of multicell. organismal dev.</text>
<rect x="486.2" y="295.1" width="77.6" height="8.3" fill="#000" />
<line x1="482.7" y1="299.2" x2="486.2" y2="299.2" stroke="#222" stroke-width="0.9" />
<text x="481.0" y="302.3" font-size="8.6" text-anchor="end" font-weight="bold" fill="#111" >Neuron part</text>
<rect x="486.2" y="308.2" width="77.6" height="8.3" fill="#000" />
<line x1="482.7" y1="312.4" x2="486.2" y2="312.4" stroke="#222" stroke-width="0.9" />
<text x="481.0" y="315.5" font-size="8.6" text-anchor="end" font-weight="bold" fill="#111" >Cell projection</text>
<rect x="486.2" y="321.4" width="73.4" height="8.3" fill="#000" />
<line x1="482.7" y1="325.5" x2="486.2" y2="325.5" stroke="#222" stroke-width="0.9" />
<text x="481.0" y="328.6" font-size="8.6" text-anchor="end" font-weight="bold" fill="#111" >Synapse</text>
<rect x="486.2" y="334.5" width="71.4" height="8.3" fill="#000" />
<line x1="482.7" y1="338.6" x2="486.2" y2="338.6" stroke="#222" stroke-width="0.9" />
<text x="481.0" y="341.7" font-size="8.6" text-anchor="end" font-weight="bold" fill="#111" >Neuron differentiation</text>
<rect x="486.2" y="347.6" width="69.0" height="8.3" fill="#000" />
<line x1="482.7" y1="351.8" x2="486.2" y2="351.8" stroke="#222" stroke-width="0.9" />
<text x="481.0" y="354.9" font-size="8.6" text-anchor="end" font-weight="bold" fill="#111" >Neuron projection</text>
<rect x="486.2" y="360.7" width="68.4" height="8.3" fill="#000" />
<line x1="482.7" y1="364.9" x2="486.2" y2="364.9" stroke="#222" stroke-width="0.9" />
<text x="481.0" y="368.0" font-size="8.6" text-anchor="end" font-weight="bold" fill="#111" >Regulation of cell differentiation</text>
<rect x="486.2" y="373.9" width="65.4" height="8.3" fill="#000" />
<line x1="482.7" y1="378.0" x2="486.2" y2="378.0" stroke="#222" stroke-width="0.9" />
<text x="481.0" y="381.1" font-size="8.6" text-anchor="end" font-weight="bold" fill="#111" >Central nervous system development</text>
<line x1="486.2" y1="251.0" x2="486.2" y2="387.3" stroke="#222" stroke-width="1.0" />
<line x1="486.2" y1="386.8" x2="594.7" y2="386.8" stroke="#222" stroke-width="1.0" />
<line x1="486.2" y1="386.8" x2="486.2" y2="390.4" stroke="#222" stroke-width="1.0" />
<text transform="translate(489.0,397.6) rotate(-45)" font-size="9.2" font-weight="bold" text-anchor="end" fill="#111">0</text>
<line x1="501.6" y1="386.8" x2="501.6" y2="390.4" stroke="#222" stroke-width="1.0" />
<text transform="translate(504.4,397.6) rotate(-45)" font-size="9.2" font-weight="bold" text-anchor="end" fill="#111">10</text>
<line x1="517.1" y1="386.8" x2="517.1" y2="390.4" stroke="#222" stroke-width="1.0" />
<text transform="translate(519.9,397.6) rotate(-45)" font-size="9.2" font-weight="bold" text-anchor="end" fill="#111">20</text>
<line x1="532.5" y1="386.8" x2="532.5" y2="390.4" stroke="#222" stroke-width="1.0" />
<text transform="translate(535.3,397.6) rotate(-45)" font-size="9.2" font-weight="bold" text-anchor="end" fill="#111">30</text>
<line x1="547.9" y1="386.8" x2="547.9" y2="390.4" stroke="#222" stroke-width="1.0" />
<text transform="translate(550.7,397.6) rotate(-45)" font-size="9.2" font-weight="bold" text-anchor="end" fill="#111">40</text>
<line x1="563.4" y1="386.8" x2="563.4" y2="390.4" stroke="#222" stroke-width="1.0" />
<text transform="translate(566.1,397.6) rotate(-45)" font-size="9.2" font-weight="bold" text-anchor="end" fill="#111">50</text>
<line x1="578.8" y1="386.8" x2="578.8" y2="390.4" stroke="#222" stroke-width="1.0" />
<text transform="translate(581.6,397.6) rotate(-45)" font-size="9.2" font-weight="bold" text-anchor="end" fill="#111">60</text>
<line x1="594.2" y1="386.8" x2="594.2" y2="390.4" stroke="#222" stroke-width="1.0" />
<text transform="translate(597.0,397.6) rotate(-45)" font-size="9.2" font-weight="bold" text-anchor="end" fill="#111">70</text>
<text x="540.2" y="417.0" font-size="10" font-weight="bold" text-anchor="middle" fill="#111">FDR (-log<tspan font-size="7" dy="2">10</tspan><tspan dy="-2">)</tspan></text>
<rect x="493.6" y="434.2" width="88.1" height="7.7" fill="#000" />
<line x1="490.1" y1="438.1" x2="493.6" y2="438.1" stroke="#222" stroke-width="0.9" />
<text x="488.2" y="441.0" font-size="8.15" text-anchor="end" font-weight="bold" fill="#111" >Neurogenesis</text>
<rect x="493.6" y="446.6" width="62.3" height="7.7" fill="#000" />
<line x1="490.1" y1="450.5" x2="493.6" y2="450.5" stroke="#222" stroke-width="0.9" />
<text x="488.2" y="453.4" font-size="8.15" text-anchor="end" font-weight="bold" fill="#111" >Neuron differentiation</text>
<rect x="493.6" y="459.1" width="59.1" height="7.7" fill="#000" />
<line x1="490.1" y1="462.9" x2="493.6" y2="462.9" stroke="#222" stroke-width="0.9" />
<text x="488.2" y="465.8" font-size="8.15" text-anchor="end" font-weight="bold" fill="#111" >Regulation of multicell. organismal dev.</text>
<rect x="493.6" y="471.5" width="55.4" height="7.7" fill="#000" />
<line x1="490.1" y1="475.3" x2="493.6" y2="475.3" stroke="#222" stroke-width="0.9" />
<text x="488.2" y="478.3" font-size="8.15" text-anchor="end" font-weight="bold" fill="#111" >Cell projection organization</text>
<rect x="493.6" y="483.9" width="49.0" height="7.7" fill="#000" />
<line x1="490.1" y1="487.8" x2="493.6" y2="487.8" stroke="#222" stroke-width="0.9" />
<text x="488.2" y="490.7" font-size="8.15" text-anchor="end" font-weight="bold" fill="#111" >Cell development</text>
<rect x="493.6" y="496.3" width="44.5" height="7.7" fill="#000" />
<line x1="490.1" y1="500.2" x2="493.6" y2="500.2" stroke="#222" stroke-width="0.9" />
<text x="488.2" y="503.1" font-size="8.15" text-anchor="end" font-weight="bold" fill="#111" >Neuron development</text>
<rect x="493.6" y="508.8" width="44.7" height="7.7" fill="#000" />
<line x1="490.1" y1="512.6" x2="493.6" y2="512.6" stroke="#222" stroke-width="0.9" />
<text x="488.2" y="515.6" font-size="8.15" text-anchor="end" font-weight="bold" fill="#111" >Pos. regulation of multicell. organismal proc.</text>
<rect x="493.6" y="521.2" width="42.8" height="7.7" fill="#000" />
<line x1="490.1" y1="525.1" x2="493.6" y2="525.1" stroke="#222" stroke-width="0.9" />
<text x="488.2" y="528.0" font-size="8.15" text-anchor="end" font-weight="bold" fill="#111" >Cellular component morphogenesis</text>
<rect x="493.6" y="533.6" width="42.3" height="7.7" fill="#000" />
<line x1="490.1" y1="537.5" x2="493.6" y2="537.5" stroke="#222" stroke-width="0.9" />
<text x="488.2" y="540.4" font-size="8.15" text-anchor="end" font-weight="bold" fill="#111" >Regulation of cell differentiation</text>
<rect x="493.6" y="546.1" width="41.7" height="7.7" fill="#000" />
<line x1="490.1" y1="549.9" x2="493.6" y2="549.9" stroke="#222" stroke-width="0.9" />
<text x="488.2" y="552.9" font-size="8.15" text-anchor="end" font-weight="bold" fill="#111" >Neuron projection</text>
<line x1="493.6" y1="429.5" x2="493.6" y2="558.7" stroke="#222" stroke-width="1.0" />
<line x1="493.6" y1="558.2" x2="596.1" y2="558.2" stroke="#222" stroke-width="1.0" />
<line x1="493.6" y1="558.2" x2="493.6" y2="561.8" stroke="#222" stroke-width="1.0" />
<text transform="translate(496.4,569.0) rotate(-45)" font-size="9.2" font-weight="bold" text-anchor="end" fill="#111">0</text>
<line x1="527.6" y1="558.2" x2="527.6" y2="561.8" stroke="#222" stroke-width="1.0" />
<text transform="translate(530.4,569.0) rotate(-45)" font-size="9.2" font-weight="bold" text-anchor="end" fill="#111">5</text>
<line x1="561.6" y1="558.2" x2="561.6" y2="561.8" stroke="#222" stroke-width="1.0" />
<text transform="translate(564.4,569.0) rotate(-45)" font-size="9.2" font-weight="bold" text-anchor="end" fill="#111">10</text>
<line x1="595.6" y1="558.2" x2="595.6" y2="561.8" stroke="#222" stroke-width="1.0" />
<text transform="translate(598.4,569.0) rotate(-45)" font-size="9.2" font-weight="bold" text-anchor="end" fill="#111">15</text>
<text x="545.5" y="586.8" font-size="10" font-weight="bold" text-anchor="middle" fill="#111">FDR (-log<tspan font-size="7" dy="2">10</tspan><tspan dy="-2">)</tspan></text>
<line x1="40.2" y1="446.8" x2="40.2" y2="550.3" stroke="#dedede" stroke-width="0.8" />
<line x1="65.4" y1="446.8" x2="65.4" y2="550.3" stroke="#dedede" stroke-width="0.8" />
<line x1="90.6" y1="446.8" x2="90.6" y2="550.3" stroke="#dedede" stroke-width="0.8" />
<line x1="115.8" y1="446.8" x2="115.8" y2="550.3" stroke="#dedede" stroke-width="0.8" />
<line x1="141.0" y1="446.8" x2="141.0" y2="550.3" stroke="#dedede" stroke-width="0.8" />
<line x1="166.2" y1="446.8" x2="166.2" y2="550.3" stroke="#dedede" stroke-width="0.8" />
<line x1="191.4" y1="446.8" x2="191.4" y2="550.3" stroke="#dedede" stroke-width="0.8" />
<line x1="216.6" y1="446.8" x2="216.6" y2="550.3" stroke="#dedede" stroke-width="0.8" />
<line x1="241.8" y1="446.8" x2="241.8" y2="550.3" stroke="#dedede" stroke-width="0.8" />
<line x1="267.0" y1="446.8" x2="267.0" y2="550.3" stroke="#dedede" stroke-width="0.8" />
<line x1="292.2" y1="446.8" x2="292.2" y2="550.3" stroke="#dedede" stroke-width="0.8" />
<path d="M40.2,547.8 C41.3,547.7 43.8,548.5 46.7,547.4 C49.6,546.3 53.8,543.4 57.8,541.3 C61.8,539.2 66.7,537.3 70.7,534.8 C74.7,532.3 77.9,529.3 81.9,526.5 C85.9,523.7 91.1,520.3 94.8,518.1 C98.5,515.9 101.2,514.3 104.0,513.1 C106.8,511.9 108.7,511.2 111.5,510.9 C114.3,510.6 117.6,510.7 120.7,511.1 C123.8,511.5 126.6,512.2 130.0,513.5 C133.4,514.8 137.4,516.9 141.1,519.1 C144.8,521.3 148.8,524.0 152.2,526.5 C155.6,529.0 158.6,532.4 161.5,533.9 C164.4,535.4 167.7,535.5 169.8,535.7 C171.9,536.0 171.7,535.2 174.3,535.4 C176.9,535.6 182.0,537.0 185.4,537.0 C188.8,537.0 191.5,536.2 194.6,535.7 C197.7,535.2 200.2,534.3 203.9,534.3 C207.6,534.3 212.9,535.0 216.9,535.7 C220.9,536.4 224.3,537.3 228.0,538.5 C231.7,539.7 235.3,541.9 239.0,543.1 C242.7,544.3 246.2,545.3 250.2,545.9 C254.2,546.5 258.8,546.6 263.1,546.5 C267.4,546.4 271.2,545.9 276.1,545.0 C281.0,544.1 289.7,541.9 292.4,541.3" fill="none" stroke="#62bf6a" stroke-width="1.1"/>
<path d="M40.2,530.6 C41.6,529.0 45.6,524.7 48.5,520.9 C51.4,517.1 54.7,512.3 57.8,508.0 C60.9,503.7 63.9,498.7 67.0,495.0 C70.1,491.3 73.2,488.3 76.3,485.7 C79.4,483.1 82.5,481.4 85.6,479.3 C88.7,477.2 91.7,474.7 94.8,472.8 C97.9,470.9 101.2,469.0 104.0,468.1 C106.8,467.2 108.7,467.1 111.5,467.6 C114.3,468.1 117.9,469.6 120.7,470.9 C123.5,472.2 125.6,473.0 128.1,475.6 C130.6,478.2 133.1,484.4 135.6,486.7 C138.1,489.0 140.5,490.2 143.0,489.4 C145.5,488.6 147.6,484.8 150.4,482.0 C153.2,479.2 156.8,475.1 159.6,472.8 C162.4,470.5 164.6,468.8 167.0,468.1 C169.4,467.4 171.6,468.9 174.3,468.7 C177.1,468.5 180.7,467.0 183.5,466.9 C186.3,466.8 188.1,466.8 190.9,468.1 C193.7,469.4 197.4,472.3 200.2,474.6 C203.0,476.9 205.1,478.9 207.6,482.0 C210.1,485.1 212.5,489.4 215.0,493.1 C217.5,496.8 219.9,500.6 222.4,504.3 C224.9,508.0 227.3,512.0 229.8,515.4 C232.3,518.8 234.7,521.7 237.2,524.6 C239.7,527.5 241.8,531.1 244.6,533.0 C247.4,534.9 250.2,534.6 253.9,535.7 C257.6,536.8 263.2,539.4 266.9,539.4 C270.6,539.4 273.0,537.1 276.1,535.7 C279.2,534.3 282.7,532.0 285.4,531.1 C288.1,530.2 291.2,530.4 292.4,530.2" fill="none" stroke="#dd5f5a" stroke-width="1.1"/>
<path d="M40.2,540.9 C41.6,539.4 45.6,536.0 48.5,532.0 C51.4,528.0 54.7,522.4 57.8,517.2 C60.9,512.0 63.9,505.9 67.0,500.6 C70.1,495.4 73.2,490.3 76.3,485.7 C79.4,481.1 82.8,475.6 85.6,472.8 C88.4,470.0 90.5,469.6 93.0,468.7 C95.5,467.8 98.1,468.0 100.4,467.6 C102.7,467.2 104.4,466.4 106.9,466.3 C109.4,466.2 112.3,466.6 115.2,467.2 C118.1,467.8 121.3,468.4 124.4,470.0 C127.5,471.6 130.6,473.6 133.7,476.5 C136.8,479.4 139.9,483.3 143.0,487.6 C146.1,491.9 149.3,497.8 152.2,502.4 C155.1,507.0 157.7,512.2 160.6,515.4 C163.5,518.6 167.4,520.1 169.8,521.5 C172.2,522.9 172.9,524.0 175.2,523.7 C177.5,523.5 180.6,521.4 183.5,520.0 C186.4,518.6 189.7,517.1 192.8,515.4 C195.9,513.7 199.2,511.6 202.0,509.8 C204.8,508.0 206.9,507.1 209.4,504.3 C211.9,501.5 214.4,496.0 216.9,493.1 C219.4,490.2 221.8,488.2 224.3,486.7 C226.8,485.2 229.2,484.5 231.7,483.9 C234.1,483.3 237.2,483.8 239.0,483.0 C240.8,482.2 241.2,480.7 242.8,479.3 C244.4,477.9 246.6,475.5 248.3,474.6 C250.0,473.7 250.8,473.2 253.0,473.7 C255.2,474.2 258.7,475.7 261.3,477.4 C263.9,479.1 266.2,480.6 268.7,483.9 C271.2,487.1 273.9,492.7 276.1,496.9 C278.3,501.1 279.9,506.9 281.7,508.9 C283.5,510.9 285.4,509.0 287.2,508.9 C289.0,508.8 291.5,508.1 292.4,508.0" fill="none" stroke="#333" stroke-width="1.1"/>
<path d="M40.2,545.0 C42.2,545.1 48.0,545.9 52.2,545.9 C56.4,545.9 60.9,545.6 65.2,545.0 C69.5,544.4 73.8,543.4 78.1,542.2 C82.4,541.0 86.8,539.5 91.1,537.6 C95.4,535.8 100.0,533.3 104.0,531.1 C108.0,528.9 111.2,526.9 115.2,524.6 C119.2,522.3 123.8,519.5 128.1,517.2 C132.4,514.9 137.1,512.3 141.1,510.7 C145.1,509.1 148.5,508.4 152.2,507.6 C155.9,506.8 158.7,506.2 163.3,505.7 C167.9,505.2 175.2,504.4 179.8,504.6 C184.4,504.8 187.2,505.8 190.9,507.0 C194.6,508.2 198.0,510.0 202.0,511.7 C206.0,513.4 210.7,515.4 215.0,517.2 C219.3,519.1 224.0,520.8 228.0,522.8 C232.0,524.8 235.3,527.3 239.0,529.3 C242.7,531.3 245.9,533.3 250.2,534.8 C254.5,536.3 260.7,537.6 265.0,538.5 C269.3,539.4 272.4,539.7 276.1,540.4 C279.8,541.1 284.5,542.1 287.2,542.6 C289.9,543.1 291.5,543.0 292.4,543.1" fill="none" stroke="#4a4ab8" stroke-width="1.3" stroke-dasharray="3.5,2.5"/>
<rect x="30.2" y="445.8" width="271.8" height="105.5" fill="none" stroke="#9a9a9a" stroke-width="1.5"/>
<line x1="27.7" y1="547.6" x2="30.2" y2="547.6" stroke="#555" stroke-width="0.8" />
<text transform="translate(27.0,550.6) scale(0.84,1)" font-size="8.4" text-anchor="end" fill="#333">0.0</text>
<line x1="27.7" y1="531.4" x2="30.2" y2="531.4" stroke="#555" stroke-width="0.8" />
<text transform="translate(27.0,534.4) scale(0.84,1)" font-size="8.4" text-anchor="end" fill="#333">0.2</text>
<line x1="27.7" y1="515.1" x2="30.2" y2="515.1" stroke="#555" stroke-width="0.8" />
<text transform="translate(27.0,518.1) scale(0.84,1)" font-size="8.4" text-anchor="end" fill="#333">0.4</text>
<line x1="27.7" y1="498.9" x2="30.2" y2="498.9" stroke="#555" stroke-width="0.8" />
<text transform="translate(27.0,501.9) scale(0.84,1)" font-size="8.4" text-anchor="end" fill="#333">0.6</text>
<line x1="27.7" y1="482.6" x2="30.2" y2="482.6" stroke="#555" stroke-width="0.8" />
<text transform="translate(27.0,485.6) scale(0.84,1)" font-size="8.4" text-anchor="end" fill="#333">0.8</text>
<line x1="27.7" y1="466.4" x2="30.2" y2="466.4" stroke="#555" stroke-width="0.8" />
<text transform="translate(27.0,469.4) scale(0.84,1)" font-size="8.4" text-anchor="end" fill="#333">1.0</text>
<line x1="27.7" y1="450.1" x2="30.2" y2="450.1" stroke="#555" stroke-width="0.8" />
<text transform="translate(27.0,453.1) scale(0.84,1)" font-size="8.4" text-anchor="end" fill="#333">1.2</text>
<line x1="65.4" y1="551.3" x2="65.4" y2="553.8" stroke="#555" stroke-width="0.8" />
<text x="65.4" y="561.1" font-size="8.2" text-anchor="middle" font-weight="normal" fill="#222" >-40</text>
<line x1="115.8" y1="551.3" x2="115.8" y2="553.8" stroke="#555" stroke-width="0.8" />
<text x="115.8" y="561.1" font-size="8.2" text-anchor="middle" font-weight="normal" fill="#222" >-20</text>
<line x1="166.2" y1="551.3" x2="166.2" y2="553.8" stroke="#555" stroke-width="0.8" />
<text x="166.2" y="561.1" font-size="8.2" text-anchor="middle" font-weight="normal" fill="#222" >0</text>
<line x1="216.6" y1="551.3" x2="216.6" y2="553.8" stroke="#555" stroke-width="0.8" />
<text x="216.6" y="561.1" font-size="8.2" text-anchor="middle" font-weight="normal" fill="#222" >20</text>
<line x1="267.0" y1="551.3" x2="267.0" y2="553.8" stroke="#555" stroke-width="0.8" />
<text x="267.0" y="561.1" font-size="8.2" text-anchor="middle" font-weight="normal" fill="#222" >40</text>
<text x="166.8" y="570.2" font-size="7.75" text-anchor="middle" font-weight="normal" fill="#333" >distance from mean peak center (bp)</text>
<text transform="translate(14.3,498) rotate(-90)" font-size="7.85" text-anchor="middle" fill="#333">normalized peak density</text>
<rect x="251.5" y="445.8" width="50.3" height="28.1" fill="#fff" stroke="#9a9a9a" stroke-width="1"/>
<line x1="253.9" y1="450.8" x2="269.0" y2="450.8" stroke="#2020a0" stroke-width="1.8" stroke-dasharray="3.8,1.6"/>
<text x="271.4" y="453.2" font-size="6.9" text-anchor="start" font-weight="normal" fill="#333" >TCF4 N</text>
<line x1="253.9" y1="456.2" x2="269.0" y2="456.2" stroke="#111" stroke-width="1.8" />
<text x="271.4" y="458.6" font-size="6.9" text-anchor="start" font-weight="normal" fill="#333" >HIF-1α H</text>
<line x1="253.9" y1="462.5" x2="269.0" y2="462.5" stroke="#e03a2a" stroke-width="1.8" />
<text x="271.4" y="464.9" font-size="6.9" text-anchor="start" font-weight="normal" fill="#333" >TCF1 H</text>
<line x1="253.9" y1="467.9" x2="269.0" y2="467.9" stroke="#4cb060" stroke-width="1.8" />
<text x="271.4" y="470.3" font-size="6.9" text-anchor="start" font-weight="normal" fill="#333" >TCF4 H</text>
<defs><linearGradient id="gE" x1="0" y1="0" x2="0" y2="1"><stop offset="0" stop-color="#0000ff"/><stop offset="0.5" stop-color="#ffffff"/><stop offset="1" stop-color="#ff0000"/></linearGradient><linearGradient id="gF" x1="0" y1="0" x2="0" y2="1"><stop offset="0" stop-color="#b01828"/><stop offset="0.25" stop-color="#cf4a56"/><stop offset="0.45" stop-color="#ebbcc0"/><stop offset="0.6" stop-color="#f3f3f3"/><stop offset="0.76" stop-color="#b4cce6"/><stop offset="1" stop-color="#1f5fae"/></linearGradient></defs>
<rect x="662.0" y="65.5" width="9.8" height="88.1" fill="url(#gE)" />
<text x="666.9" y="62.4" font-size="9.1" text-anchor="middle" font-weight="normal" fill="#333" >row min</text>
<text x="666.9" y="164.8" font-size="9.1" text-anchor="middle" font-weight="normal" fill="#333" >row max</text>
<rect x="689.6" y="58.6" width="10.4" height="10.2" fill="#f00000" />
<rect x="701.8" y="58.6" width="10.4" height="10.2" fill="#0000ee" />
<rect x="714.0" y="58.6" width="10.4" height="10.2" fill="#2a35e8" />
<rect x="726.3" y="58.6" width="10.4" height="10.2" fill="#0000f0" />
<text x="738.7" y="66.4" font-size="9.3" text-anchor="start" font-weight="normal" fill="#1a1a1a" >GRM3</text>
<rect x="689.6" y="70.7" width="10.4" height="10.2" fill="#f00000" />
<rect x="701.8" y="70.7" width="10.4" height="10.2" fill="#8080f0" />
<rect x="714.0" y="70.7" width="10.4" height="10.2" fill="#3a3ae8" />
<rect x="726.3" y="70.7" width="10.4" height="10.2" fill="#0000f0" />
<text x="738.7" y="78.5" font-size="9.3" text-anchor="start" font-weight="normal" fill="#1a1a1a" >STMN2</text>
<rect x="689.6" y="82.8" width="10.4" height="10.2" fill="#f00000" />
<rect x="701.8" y="82.8" width="10.4" height="10.2" fill="#f5c8c8" />
<rect x="714.0" y="82.8" width="10.4" height="10.2" fill="#4a4aea" />
<rect x="726.3" y="82.8" width="10.4" height="10.2" fill="#0000f0" />
<text x="738.7" y="90.6" font-size="9.3" text-anchor="start" font-weight="normal" fill="#1a1a1a" >CNTN4</text>
<rect x="689.6" y="94.8" width="10.4" height="10.2" fill="#f5c0c0" />
<rect x="701.8" y="94.8" width="10.4" height="10.2" fill="#ee0000" />
<rect x="714.0" y="94.8" width="10.4" height="10.2" fill="#ececf5" />
<rect x="726.3" y="94.8" width="10.4" height="10.2" fill="#0000f0" />
<text x="738.7" y="102.6" font-size="9.3" text-anchor="start" font-weight="normal" fill="#1a1a1a" >LINGO2</text>
<rect x="689.6" y="106.9" width="10.4" height="10.2" fill="#f00000" />
<rect x="701.8" y="106.9" width="10.4" height="10.2" fill="#6a6ae8" />
<rect x="714.0" y="106.9" width="10.4" height="10.2" fill="#4a4ae8" />
<rect x="726.3" y="106.9" width="10.4" height="10.2" fill="#0000f0" />
<text x="738.7" y="114.7" font-size="9.3" text-anchor="start" font-weight="normal" fill="#1a1a1a" >OPCML</text>
<rect x="689.6" y="119.0" width="10.4" height="10.2" fill="#f00000" />
<rect x="701.8" y="119.0" width="10.4" height="10.2" fill="#d0d0f0" />
<rect x="714.0" y="119.0" width="10.4" height="10.2" fill="#4848e8" />
<rect x="726.3" y="119.0" width="10.4" height="10.2" fill="#0000f0" />
<text x="738.7" y="126.8" font-size="9.3" text-anchor="start" font-weight="normal" fill="#1a1a1a" >DNM3</text>
<rect x="689.6" y="131.1" width="10.4" height="10.2" fill="#f00000" />
<rect x="701.8" y="131.1" width="10.4" height="10.2" fill="#f04040" />
<rect x="714.0" y="131.1" width="10.4" height="10.2" fill="#e0e0f5" />
<rect x="726.3" y="131.1" width="10.4" height="10.2" fill="#0000f0" />
<text x="738.7" y="138.9" font-size="9.3" text-anchor="start" font-weight="normal" fill="#1a1a1a" >CBLN2</text>
<rect x="689.6" y="143.2" width="10.4" height="10.2" fill="#f00000" />
<rect x="701.8" y="143.2" width="10.4" height="10.2" fill="#ebebf5" />
<rect x="714.0" y="143.2" width="10.4" height="10.2" fill="#5050e8" />
<rect x="726.3" y="143.2" width="10.4" height="10.2" fill="#0000f0" />
<text x="738.7" y="151.0" font-size="9.3" text-anchor="start" font-weight="normal" fill="#1a1a1a" >CHRM3</text>
<rect x="689.6" y="155.2" width="10.4" height="10.2" fill="#f00000" />
<rect x="701.8" y="155.2" width="10.4" height="10.2" fill="#5050e8" />
<rect x="714.0" y="155.2" width="10.4" height="10.2" fill="#1010e8" />
<rect x="726.3" y="155.2" width="10.4" height="10.2" fill="#0000f0" />
<text x="738.7" y="163.0" font-size="9.3" text-anchor="start" font-weight="normal" fill="#1a1a1a" >ANKS1B</text>
<rect x="689.6" y="167.3" width="10.4" height="10.2" fill="#f00000" />
<rect x="701.8" y="167.3" width="10.4" height="10.2" fill="#d0d0f0" />
<rect x="714.0" y="167.3" width="10.4" height="10.2" fill="#3a3ae8" />
<rect x="726.3" y="167.3" width="10.4" height="10.2" fill="#0000f0" />
<text x="738.7" y="175.1" font-size="9.3" text-anchor="start" font-weight="normal" fill="#1a1a1a" >EDIL3</text>
<rect x="689.6" y="179.4" width="10.4" height="10.2" fill="#f00000" />
<rect x="701.8" y="179.4" width="10.4" height="10.2" fill="#b0b0f2" />
<rect x="714.0" y="179.4" width="10.4" height="10.2" fill="#8080ec" />
<rect x="726.3" y="179.4" width="10.4" height="10.2" fill="#0000f0" />
<text x="738.7" y="187.2" font-size="9.3" text-anchor="start" font-weight="normal" fill="#1a1a1a" >CNTNAP2</text>
<rect x="689.6" y="191.5" width="10.4" height="10.2" fill="#f00000" />
<rect x="701.8" y="191.5" width="10.4" height="10.2" fill="#b8b8f2" />
<rect x="714.0" y="191.5" width="10.4" height="10.2" fill="#a0a0f0" />
<rect x="726.3" y="191.5" width="10.4" height="10.2" fill="#0000f0" />
<text x="738.7" y="199.3" font-size="9.3" text-anchor="start" font-weight="normal" fill="#1a1a1a" >PAK1</text>
<rect x="689.6" y="203.6" width="10.4" height="10.2" fill="#f00000" />
<rect x="701.8" y="203.6" width="10.4" height="10.2" fill="#2020e8" />
<rect x="714.0" y="203.6" width="10.4" height="10.2" fill="#0808e8" />
<rect x="726.3" y="203.6" width="10.4" height="10.2" fill="#4040e8" />
<text x="738.7" y="211.4" font-size="9.3" text-anchor="start" font-weight="normal" fill="#1a1a1a" >SLC2A13</text>
<rect x="689.6" y="215.6" width="10.4" height="10.2" fill="#f00000" />
<rect x="701.8" y="215.6" width="10.4" height="10.2" fill="#b0b0f2" />
<rect x="714.0" y="215.6" width="10.4" height="10.2" fill="#2020e8" />
<rect x="726.3" y="215.6" width="10.4" height="10.2" fill="#0000f0" />
<text x="738.7" y="223.4" font-size="9.3" text-anchor="start" font-weight="normal" fill="#1a1a1a" >LRP1B</text>
<rect x="689.6" y="227.7" width="10.4" height="10.2" fill="#f00000" />
<rect x="701.8" y="227.7" width="10.4" height="10.2" fill="#f8f0f0" />
<rect x="714.0" y="227.7" width="10.4" height="10.2" fill="#d0d0f2" />
<rect x="726.3" y="227.7" width="10.4" height="10.2" fill="#0000f0" />
<text x="738.7" y="235.5" font-size="9.3" text-anchor="start" font-weight="normal" fill="#1a1a1a" >SHISA9</text>
<rect x="689.6" y="239.8" width="10.4" height="10.2" fill="#f00000" />
<rect x="701.8" y="239.8" width="10.4" height="10.2" fill="#c8c8f2" />
<rect x="714.0" y="239.8" width="10.4" height="10.2" fill="#4848e8" />
<rect x="726.3" y="239.8" width="10.4" height="10.2" fill="#0000f0" />
<text x="738.7" y="247.6" font-size="9.3" text-anchor="start" font-weight="normal" fill="#1a1a1a" >C5orf30</text>
<rect x="689.6" y="251.9" width="10.4" height="10.2" fill="#f00000" />
<rect x="701.8" y="251.9" width="10.4" height="10.2" fill="#5050e8" />
<rect x="714.0" y="251.9" width="10.4" height="10.2" fill="#1515e8" />
<rect x="726.3" y="251.9" width="10.4" height="10.2" fill="#0000f0" />
<text x="738.7" y="259.7" font-size="9.3" text-anchor="start" font-weight="normal" fill="#1a1a1a" >CSMD3</text>
<rect x="689.6" y="264.0" width="10.4" height="10.2" fill="#f00000" />
<rect x="701.8" y="264.0" width="10.4" height="10.2" fill="#7070ec" />
<rect x="714.0" y="264.0" width="10.4" height="10.2" fill="#2020e8" />
<rect x="726.3" y="264.0" width="10.4" height="10.2" fill="#0000f0" />
<text x="738.7" y="271.8" font-size="9.3" text-anchor="start" font-weight="normal" fill="#1a1a1a" >RUNX1T1</text>
<rect x="689.6" y="276.0" width="10.4" height="10.2" fill="#f00000" />
<rect x="701.8" y="276.0" width="10.4" height="10.2" fill="#c8c8f2" />
<rect x="714.0" y="276.0" width="10.4" height="10.2" fill="#8888ee" />
<rect x="726.3" y="276.0" width="10.4" height="10.2" fill="#0000f0" />
<text x="738.7" y="283.8" font-size="9.3" text-anchor="start" font-weight="normal" fill="#1a1a1a" >CMIP</text>
<rect x="689.6" y="288.1" width="10.4" height="10.2" fill="#f00000" />
<rect x="701.8" y="288.1" width="10.4" height="10.2" fill="#7878ec" />
<rect x="714.0" y="288.1" width="10.4" height="10.2" fill="#7070ec" />
<rect x="726.3" y="288.1" width="10.4" height="10.2" fill="#0000f0" />
<text x="738.7" y="295.9" font-size="9.3" text-anchor="start" font-weight="normal" fill="#1a1a1a" >PTPN3</text>
<text transform="translate(695.4,56.0) rotate(-45)" font-size="9.2" fill="#222">Normal brain</text>
<text transform="translate(707.6,56.0) rotate(-45)" font-size="9.2" fill="#222">Glioma II</text>
<text transform="translate(719.8,56.0) rotate(-45)" font-size="9.2" fill="#222">Glioma III</text>
<text transform="translate(732.1,56.0) rotate(-45)" font-size="9.2" fill="#222">GBM</text>
<rect x="660.4" y="359.3" width="47.5" height="5.0" fill="#1fa254" />
<rect x="707.9" y="359.3" width="47.9" height="5.0" fill="#ec6a2e" />
<text transform="translate(680.2,355.8) rotate(-45)" font-size="11.2" fill="#111">H+Wnt3a</text>
<text transform="translate(728.2,355.8) rotate(-45)" font-size="11.2" fill="#111">N+Wnt3a</text>
<rect x="638.1" y="370.6" width="10.4" height="105.4" fill="url(#gF)" />
<text x="643.3" y="369.3" font-size="10.5" text-anchor="middle" font-weight="normal" fill="#222" >4</text>
<text x="641.8" y="488.3" font-size="10.3" text-anchor="middle" font-weight="normal" fill="#222" >-1.5</text>
<text transform="translate(635.3,424.3) rotate(-90)" font-size="11" text-anchor="middle" fill="#444">rel. expression</text>
<circle cx="673.2" cy="377.8" r="11" fill="#e8c0c4"/>
<circle cx="696.4" cy="377.8" r="11" fill="#c00010"/>
<circle cx="719.7" cy="377.8" r="11" fill="#2a6ab8"/>
<circle cx="742.9" cy="377.8" r="11" fill="#eeeeef"/>
<text transform="translate(757.9,383.2) scale(0.88,1)" font-size="12.3" fill="#1a1a1a">OPCML</text>
<circle cx="673.2" cy="400.9" r="11" fill="#dc9aa0"/>
<circle cx="696.4" cy="400.9" r="11" fill="#c00010"/>
<circle cx="719.7" cy="400.9" r="11" fill="#f0dcdc"/>
<circle cx="742.9" cy="400.9" r="11" fill="#ebc8cb"/>
<text transform="translate(757.9,406.3) scale(0.88,1)" font-size="12.3" fill="#1a1a1a">DNM3</text>
<circle cx="673.2" cy="424.0" r="11" fill="#ebc8cb"/>
<circle cx="696.4" cy="424.0" r="11" fill="#e8c0c4"/>
<circle cx="719.7" cy="424.0" r="11" fill="#f0dcdd"/>
<circle cx="742.9" cy="424.0" r="11" fill="#f0eeee"/>
<text transform="translate(757.9,429.4) scale(0.88,1)" font-size="12.3" fill="#1a1a1a">STMN2</text>
<circle cx="673.2" cy="447.1" r="11" fill="#c82030"/>
<circle cx="696.4" cy="447.1" r="11" fill="#e4b4b8"/>
<circle cx="719.7" cy="447.1" r="11" fill="#eeeef0"/>
<circle cx="742.9" cy="447.1" r="11" fill="#efefef"/>
<text transform="translate(757.9,452.5) scale(0.88,1)" font-size="12.3" fill="#1a1a1a">LINGO2</text>
<circle cx="673.2" cy="470.2" r="11" fill="#f0dcdc"/>
<circle cx="696.4" cy="470.2" r="11" fill="#dda0a5"/>
<circle cx="719.7" cy="470.2" r="11" fill="#efeff0"/>
<circle cx="742.9" cy="470.2" r="11" fill="#2a6ab8"/>
<text transform="translate(757.9,475.6) scale(0.88,1)" font-size="12.3" fill="#1a1a1a">ANKS1B</text>
<circle cx="673.2" cy="493.3" r="11" fill="#cc3a44"/>
<circle cx="696.4" cy="493.3" r="11" fill="#e8b8bc"/>
<circle cx="719.7" cy="493.3" r="11" fill="#1a56a8"/>
<circle cx="742.9" cy="493.3" r="11" fill="#2a6ab6"/>
<text transform="translate(757.9,498.7) scale(0.88,1)" font-size="12.3" fill="#1a1a1a">CNTN4</text>
<circle cx="673.2" cy="516.4" r="11" fill="#ecc8cb"/>
<circle cx="696.4" cy="516.4" r="11" fill="#d86068"/>
<circle cx="719.7" cy="516.4" r="11" fill="#2a6ab6"/>
<circle cx="742.9" cy="516.4" r="11" fill="#1e5eae"/>
<text transform="translate(757.9,521.8) scale(0.88,1)" font-size="12.3" fill="#1a1a1a">RUNX1T1</text>
<circle cx="673.2" cy="539.5" r="11" fill="#f0dcde"/>
<circle cx="696.4" cy="539.5" r="11" fill="#efd4d6"/>
<circle cx="719.7" cy="539.5" r="11" fill="#3070b8"/>
<circle cx="742.9" cy="539.5" r="11" fill="#2060b0"/>
<text transform="translate(757.9,544.9) scale(0.88,1)" font-size="12.3" fill="#1a1a1a">PAK1</text>
<circle cx="673.2" cy="562.6" r="11" fill="#c00010"/>
<circle cx="696.4" cy="562.6" r="11" fill="#e0a0a5"/>
<circle cx="719.7" cy="562.6" r="11" fill="#1a54a6"/>
<circle cx="742.9" cy="562.6" r="11" fill="#eeeff0"/>
<text transform="translate(757.9,568.0) scale(0.88,1)" font-size="12.3" fill="#1a1a1a">CBLN2</text>
<text x="673.2" y="588.2" font-size="13.6" text-anchor="middle" font-weight="normal" fill="#111" >#1</text>
<text x="696.4" y="588.2" font-size="13.6" text-anchor="middle" font-weight="normal" fill="#111" >#2</text>
<text x="719.7" y="588.2" font-size="13.6" text-anchor="middle" font-weight="normal" fill="#111" >#1</text>
<text x="742.9" y="588.2" font-size="13.6" text-anchor="middle" font-weight="normal" fill="#111" >#2</text>
</svg>
</body></html>
